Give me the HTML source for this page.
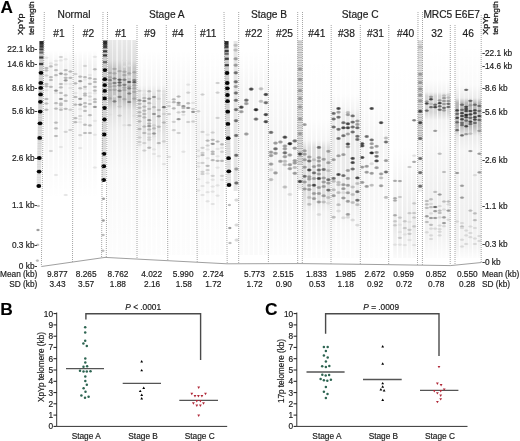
<!DOCTYPE html>
<html><head><meta charset="utf-8"><style>
html,body{margin:0;padding:0;background:#fff;}
body{width:520px;height:441px;overflow:hidden;}
svg{display:block;will-change:transform;font-family:"Liberation Sans",sans-serif;}
text{stroke:#222;stroke-width:0.18px;}
</style></head><body>
<svg width="520" height="441" viewBox="0 0 520 441">
<rect width="520" height="441" fill="#fff"/>
<defs>
<linearGradient id="sg" x1="0" y1="0" x2="0" y2="1"><stop offset="0" stop-color="#000" stop-opacity="0.9"/><stop offset="0.55" stop-color="#000" stop-opacity="1"/><stop offset="1" stop-color="#000" stop-opacity="0.15"/></linearGradient>
<filter id="bl" x="-50%" y="-80%" width="200%" height="260%"><feGaussianBlur stdDeviation="0.7"/></filter>
<filter id="bl2" x="-50%" y="-50%" width="200%" height="200%"><feGaussianBlur stdDeviation="0.7"/></filter>
<pattern id="stripe" width="6" height="2.6" patternUnits="userSpaceOnUse"><rect width="6" height="1.3" fill="#acacac"/><rect y="1.3" width="6" height="1.3" fill="#d8d8d8"/></pattern>
<linearGradient id="sm_nA" x1="0" y1="0" x2="0" y2="1"><stop offset="0.000" stop-color="#000" stop-opacity="0"/><stop offset="0.100" stop-color="#000" stop-opacity="0.05"/><stop offset="0.400" stop-color="#000" stop-opacity="0.05"/><stop offset="1.000" stop-color="#000" stop-opacity="0"/></linearGradient>
<linearGradient id="sm_nB" x1="0" y1="0" x2="0" y2="1"><stop offset="0.000" stop-color="#000" stop-opacity="0"/><stop offset="0.100" stop-color="#000" stop-opacity="0.05"/><stop offset="0.400" stop-color="#000" stop-opacity="0.05"/><stop offset="1.000" stop-color="#000" stop-opacity="0"/></linearGradient>
<linearGradient id="sm_a1" x1="0" y1="0" x2="0" y2="1"><stop offset="0.000" stop-color="#000" stop-opacity="0.09"/><stop offset="0.093" stop-color="#000" stop-opacity="0.13"/><stop offset="0.130" stop-color="#000" stop-opacity="0.22"/><stop offset="0.279" stop-color="#000" stop-opacity="0.25"/><stop offset="0.326" stop-color="#000" stop-opacity="0.12"/><stop offset="0.419" stop-color="#000" stop-opacity="0.06"/><stop offset="0.605" stop-color="#000" stop-opacity="0.025"/><stop offset="1.000" stop-color="#000" stop-opacity="0.01"/></linearGradient>
<linearGradient id="sm_a9" x1="0" y1="0" x2="0" y2="1"><stop offset="0.000" stop-color="#000" stop-opacity="0"/><stop offset="0.171" stop-color="#000" stop-opacity="0.04"/><stop offset="0.220" stop-color="#000" stop-opacity="0.12"/><stop offset="0.390" stop-color="#000" stop-opacity="0.12"/><stop offset="0.488" stop-color="#000" stop-opacity="0.05"/><stop offset="0.634" stop-color="#000" stop-opacity="0.02"/><stop offset="1.000" stop-color="#000" stop-opacity="0.01"/></linearGradient>
<linearGradient id="sm_a4" x1="0" y1="0" x2="0" y2="1"><stop offset="0.000" stop-color="#000" stop-opacity="0"/><stop offset="0.220" stop-color="#000" stop-opacity="0.04"/><stop offset="0.341" stop-color="#000" stop-opacity="0.04"/><stop offset="0.634" stop-color="#000" stop-opacity="0.015"/><stop offset="1.000" stop-color="#000" stop-opacity="0.01"/></linearGradient>
<linearGradient id="sm_a11" x1="0" y1="0" x2="0" y2="1"><stop offset="0.000" stop-color="#000" stop-opacity="0"/><stop offset="0.390" stop-color="#000" stop-opacity="0.05"/><stop offset="0.634" stop-color="#000" stop-opacity="0.04"/><stop offset="0.829" stop-color="#000" stop-opacity="0.015"/><stop offset="1.000" stop-color="#000" stop-opacity="0.01"/></linearGradient>
<linearGradient id="sm_b22" x1="0" y1="0" x2="0" y2="1"><stop offset="0.000" stop-color="#000" stop-opacity="0"/><stop offset="0.195" stop-color="#000" stop-opacity="0.04"/><stop offset="0.390" stop-color="#000" stop-opacity="0.04"/><stop offset="1.000" stop-color="#000" stop-opacity="0.02"/></linearGradient>
<linearGradient id="sm_b25" x1="0" y1="0" x2="0" y2="1"><stop offset="0.000" stop-color="#000" stop-opacity="0"/><stop offset="0.390" stop-color="#000" stop-opacity="0.04"/><stop offset="0.610" stop-color="#000" stop-opacity="0.05"/><stop offset="1.000" stop-color="#000" stop-opacity="0.01"/></linearGradient>
<linearGradient id="sm_c41" x1="0" y1="0" x2="0" y2="1"><stop offset="0.000" stop-color="#000" stop-opacity="0.0"/><stop offset="0.337" stop-color="#000" stop-opacity="0.01"/><stop offset="0.433" stop-color="#000" stop-opacity="0.04"/><stop offset="0.471" stop-color="#000" stop-opacity="0.13"/><stop offset="0.697" stop-color="#000" stop-opacity="0.13"/><stop offset="0.779" stop-color="#000" stop-opacity="0.05"/><stop offset="1.000" stop-color="#000" stop-opacity="0.01"/></linearGradient>
<linearGradient id="sm_c38" x1="0" y1="0" x2="0" y2="1"><stop offset="0.000" stop-color="#000" stop-opacity="0.0"/><stop offset="0.216" stop-color="#000" stop-opacity="0.01"/><stop offset="0.279" stop-color="#000" stop-opacity="0.04"/><stop offset="0.312" stop-color="#000" stop-opacity="0.08"/><stop offset="0.697" stop-color="#000" stop-opacity="0.08"/><stop offset="0.841" stop-color="#000" stop-opacity="0.03"/><stop offset="1.000" stop-color="#000" stop-opacity="0.01"/></linearGradient>
<linearGradient id="sm_c31" x1="0" y1="0" x2="0" y2="1"><stop offset="0.000" stop-color="#000" stop-opacity="0.0"/><stop offset="0.240" stop-color="#000" stop-opacity="0.01"/><stop offset="0.433" stop-color="#000" stop-opacity="0.04"/><stop offset="0.721" stop-color="#000" stop-opacity="0.03"/><stop offset="1.000" stop-color="#000" stop-opacity="0.01"/></linearGradient>
<linearGradient id="sm_c40" x1="0" y1="0" x2="0" y2="1"><stop offset="0.000" stop-color="#000" stop-opacity="0.0"/><stop offset="0.481" stop-color="#000" stop-opacity="0.01"/><stop offset="0.625" stop-color="#000" stop-opacity="0.04"/><stop offset="0.865" stop-color="#000" stop-opacity="0.08"/><stop offset="1.000" stop-color="#000" stop-opacity="0.02"/></linearGradient>
<linearGradient id="sm_m32" x1="0" y1="0" x2="0" y2="1"><stop offset="0.000" stop-color="#000" stop-opacity="0.0"/><stop offset="0.164" stop-color="#000" stop-opacity="0.01"/><stop offset="0.221" stop-color="#000" stop-opacity="0.05"/><stop offset="0.239" stop-color="#000" stop-opacity="0.16"/><stop offset="0.315" stop-color="#000" stop-opacity="0.16"/><stop offset="0.352" stop-color="#000" stop-opacity="0.05"/><stop offset="0.446" stop-color="#000" stop-opacity="0.03"/><stop offset="0.704" stop-color="#000" stop-opacity="0.06"/><stop offset="0.892" stop-color="#000" stop-opacity="0.05"/><stop offset="1.000" stop-color="#000" stop-opacity="0.01"/></linearGradient>
<linearGradient id="sm_m46" x1="0" y1="0" x2="0" y2="1"><stop offset="0.000" stop-color="#000" stop-opacity="0.0"/><stop offset="0.188" stop-color="#000" stop-opacity="0.02"/><stop offset="0.249" stop-color="#000" stop-opacity="0.08"/><stop offset="0.272" stop-color="#000" stop-opacity="0.28"/><stop offset="0.380" stop-color="#000" stop-opacity="0.28"/><stop offset="0.427" stop-color="#000" stop-opacity="0.08"/><stop offset="0.493" stop-color="#000" stop-opacity="0.04"/><stop offset="0.798" stop-color="#000" stop-opacity="0.06"/><stop offset="0.939" stop-color="#000" stop-opacity="0.05"/><stop offset="1.000" stop-color="#000" stop-opacity="0.01"/></linearGradient>
<radialGradient id="qV"><stop offset="0" stop-color="#505050" stop-opacity="1"/><stop offset="0.45" stop-color="#505050" stop-opacity="0.9"/><stop offset="1" stop-color="#505050" stop-opacity="0"/></radialGradient>
<radialGradient id="qD"><stop offset="0" stop-color="#6a6a6a" stop-opacity="1"/><stop offset="0.45" stop-color="#6a6a6a" stop-opacity="0.9"/><stop offset="1" stop-color="#6a6a6a" stop-opacity="0"/></radialGradient>
<radialGradient id="qM2"><stop offset="0" stop-color="#8e8e8e" stop-opacity="1"/><stop offset="0.45" stop-color="#8e8e8e" stop-opacity="0.9"/><stop offset="1" stop-color="#8e8e8e" stop-opacity="0"/></radialGradient>
<radialGradient id="qM"><stop offset="0" stop-color="#b2b2b2" stop-opacity="1"/><stop offset="0.45" stop-color="#b2b2b2" stop-opacity="0.9"/><stop offset="1" stop-color="#b2b2b2" stop-opacity="0"/></radialGradient>
<radialGradient id="qL2"><stop offset="0" stop-color="#cbcbcb" stop-opacity="1"/><stop offset="0.45" stop-color="#cbcbcb" stop-opacity="0.9"/><stop offset="1" stop-color="#cbcbcb" stop-opacity="0"/></radialGradient>
<radialGradient id="qL"><stop offset="0" stop-color="#e0e0e0" stop-opacity="1"/><stop offset="0.45" stop-color="#e0e0e0" stop-opacity="0.9"/><stop offset="1" stop-color="#e0e0e0" stop-opacity="0"/></radialGradient>
<radialGradient id="nV"><stop offset="0" stop-color="#4a4a4a" stop-opacity="1"/><stop offset="0.45" stop-color="#4a4a4a" stop-opacity="0.9"/><stop offset="1" stop-color="#4a4a4a" stop-opacity="0"/></radialGradient>
<radialGradient id="nD"><stop offset="0" stop-color="#686868" stop-opacity="1"/><stop offset="0.45" stop-color="#686868" stop-opacity="0.9"/><stop offset="1" stop-color="#686868" stop-opacity="0"/></radialGradient>
<radialGradient id="nM2"><stop offset="0" stop-color="#929292" stop-opacity="1"/><stop offset="0.45" stop-color="#929292" stop-opacity="0.9"/><stop offset="1" stop-color="#929292" stop-opacity="0"/></radialGradient>
<radialGradient id="nM"><stop offset="0" stop-color="#b6b6b6" stop-opacity="1"/><stop offset="0.45" stop-color="#b6b6b6" stop-opacity="0.9"/><stop offset="1" stop-color="#b6b6b6" stop-opacity="0"/></radialGradient>
<radialGradient id="nL2"><stop offset="0" stop-color="#cfcfcf" stop-opacity="1"/><stop offset="0.45" stop-color="#cfcfcf" stop-opacity="0.9"/><stop offset="1" stop-color="#cfcfcf" stop-opacity="0"/></radialGradient>
<radialGradient id="nL"><stop offset="0" stop-color="#e3e3e3" stop-opacity="1"/><stop offset="0.45" stop-color="#e3e3e3" stop-opacity="0.9"/><stop offset="1" stop-color="#e3e3e3" stop-opacity="0"/></radialGradient>
<radialGradient id="hV"><stop offset="0" stop-color="#3a3a3a" stop-opacity="1"/><stop offset="0.45" stop-color="#3a3a3a" stop-opacity="0.9"/><stop offset="1" stop-color="#3a3a3a" stop-opacity="0"/></radialGradient>
<radialGradient id="hD"><stop offset="0" stop-color="#555555" stop-opacity="1"/><stop offset="0.45" stop-color="#555555" stop-opacity="0.9"/><stop offset="1" stop-color="#555555" stop-opacity="0"/></radialGradient>
<radialGradient id="hM2"><stop offset="0" stop-color="#7a7a7a" stop-opacity="1"/><stop offset="0.45" stop-color="#7a7a7a" stop-opacity="0.9"/><stop offset="1" stop-color="#7a7a7a" stop-opacity="0"/></radialGradient>
<radialGradient id="hM"><stop offset="0" stop-color="#a4a4a4" stop-opacity="1"/><stop offset="0.45" stop-color="#a4a4a4" stop-opacity="0.9"/><stop offset="1" stop-color="#a4a4a4" stop-opacity="0"/></radialGradient>
<radialGradient id="hL2"><stop offset="0" stop-color="#c4c4c4" stop-opacity="1"/><stop offset="0.45" stop-color="#c4c4c4" stop-opacity="0.9"/><stop offset="1" stop-color="#c4c4c4" stop-opacity="0"/></radialGradient>
<radialGradient id="hL"><stop offset="0" stop-color="#dedede" stop-opacity="1"/><stop offset="0.45" stop-color="#dedede" stop-opacity="0.9"/><stop offset="1" stop-color="#dedede" stop-opacity="0"/></radialGradient>
<radialGradient id="gV"><stop offset="0" stop-color="#1e1e1e" stop-opacity="1"/><stop offset="0.45" stop-color="#1e1e1e" stop-opacity="0.9"/><stop offset="1" stop-color="#1e1e1e" stop-opacity="0"/></radialGradient>
<radialGradient id="gD"><stop offset="0" stop-color="#3c3c3c" stop-opacity="1"/><stop offset="0.45" stop-color="#3c3c3c" stop-opacity="0.9"/><stop offset="1" stop-color="#3c3c3c" stop-opacity="0"/></radialGradient>
<radialGradient id="gM2"><stop offset="0" stop-color="#646464" stop-opacity="1"/><stop offset="0.45" stop-color="#646464" stop-opacity="0.9"/><stop offset="1" stop-color="#646464" stop-opacity="0"/></radialGradient>
<radialGradient id="gM"><stop offset="0" stop-color="#959595" stop-opacity="1"/><stop offset="0.45" stop-color="#959595" stop-opacity="0.9"/><stop offset="1" stop-color="#959595" stop-opacity="0"/></radialGradient>
<radialGradient id="gL2"><stop offset="0" stop-color="#b8b8b8" stop-opacity="1"/><stop offset="0.45" stop-color="#b8b8b8" stop-opacity="0.9"/><stop offset="1" stop-color="#b8b8b8" stop-opacity="0"/></radialGradient>
<radialGradient id="gL"><stop offset="0" stop-color="#d6d6d6" stop-opacity="1"/><stop offset="0.45" stop-color="#d6d6d6" stop-opacity="0.9"/><stop offset="1" stop-color="#d6d6d6" stop-opacity="0"/></radialGradient>
<linearGradient id="ldtop" x1="0" y1="0" x2="0" y2="1"><stop offset="0" stop-color="#3a3a3a"/><stop offset="0.3" stop-color="#222"/><stop offset="0.6" stop-color="#4a4a4a"/><stop offset="0.8" stop-color="#333"/><stop offset="1" stop-color="#6a6a6a"/></linearGradient>
<linearGradient id="ldbg" x1="0" y1="0" x2="0" y2="1"><stop offset="0" stop-color="#000" stop-opacity="0.22"/><stop offset="0.5" stop-color="#000" stop-opacity="0.16"/><stop offset="1" stop-color="#000" stop-opacity="0.06"/></linearGradient>
</defs>
<rect x="44.6" y="50" width="3.6" height="150" fill="url(#sm_nA)"/>
<rect x="49.1" y="50" width="3.6" height="150" fill="url(#sm_nA)"/>
<rect x="54.2" y="50" width="3.6" height="150" fill="url(#sm_nA)"/>
<rect x="59.1" y="50" width="3.6" height="150" fill="url(#sm_nA)"/>
<rect x="63.9" y="50" width="3.6" height="150" fill="url(#sm_nA)"/>
<rect x="68.6" y="50" width="3.6" height="150" fill="url(#sm_nA)"/>
<rect x="73.6" y="50" width="3.6" height="150" fill="url(#sm_nB)"/>
<rect x="78.4" y="50" width="3.6" height="150" fill="url(#sm_nB)"/>
<rect x="83.2" y="50" width="3.6" height="150" fill="url(#sm_nB)"/>
<rect x="88.1" y="50" width="3.6" height="150" fill="url(#sm_nB)"/>
<rect x="93.1" y="50" width="3.6" height="150" fill="url(#sm_nB)"/>
<rect x="108.0" y="40" width="4.0" height="215" fill="url(#sm_a1)"/>
<rect x="112.5" y="40" width="4.0" height="215" fill="url(#sm_a1)"/>
<rect x="117.6" y="40" width="4.0" height="215" fill="url(#sm_a1)"/>
<rect x="122.4" y="40" width="4.0" height="215" fill="url(#sm_a1)"/>
<rect x="127.2" y="40" width="4.0" height="215" fill="url(#sm_a1)"/>
<rect x="132.3" y="40" width="4.0" height="215" fill="url(#sm_a1)"/>
<rect x="137.7" y="50" width="3.6" height="205" fill="url(#sm_a9)"/>
<rect x="142.5" y="50" width="3.6" height="205" fill="url(#sm_a9)"/>
<rect x="147.4" y="50" width="3.6" height="205" fill="url(#sm_a9)"/>
<rect x="152.2" y="50" width="3.6" height="205" fill="url(#sm_a9)"/>
<rect x="157.0" y="50" width="3.6" height="205" fill="url(#sm_a9)"/>
<rect x="162.1" y="50" width="3.6" height="205" fill="url(#sm_a9)"/>
<rect x="167.2" y="50" width="3.6" height="205" fill="url(#sm_a4)"/>
<rect x="172.0" y="50" width="3.6" height="205" fill="url(#sm_a4)"/>
<rect x="176.8" y="50" width="3.6" height="205" fill="url(#sm_a4)"/>
<rect x="181.6" y="50" width="3.6" height="205" fill="url(#sm_a4)"/>
<rect x="186.4" y="50" width="3.6" height="205" fill="url(#sm_a4)"/>
<rect x="191.3" y="50" width="3.6" height="205" fill="url(#sm_a4)"/>
<rect x="196.5" y="50" width="3.6" height="205" fill="url(#sm_a11)"/>
<rect x="200.7" y="50" width="3.6" height="205" fill="url(#sm_a11)"/>
<rect x="205.8" y="50" width="3.6" height="205" fill="url(#sm_a11)"/>
<rect x="210.9" y="50" width="3.6" height="205" fill="url(#sm_a11)"/>
<rect x="215.8" y="50" width="3.6" height="205" fill="url(#sm_a11)"/>
<rect x="220.2" y="50" width="3.6" height="205" fill="url(#sm_a11)"/>
<rect x="239.5" y="50" width="3.6" height="205" fill="url(#sm_b22)"/>
<rect x="244.5" y="50" width="3.6" height="205" fill="url(#sm_b22)"/>
<rect x="249.4" y="50" width="3.6" height="205" fill="url(#sm_b22)"/>
<rect x="254.2" y="50" width="3.6" height="205" fill="url(#sm_b22)"/>
<rect x="259.2" y="50" width="3.6" height="205" fill="url(#sm_b22)"/>
<rect x="264.1" y="50" width="3.6" height="205" fill="url(#sm_b22)"/>
<rect x="269.2" y="50" width="3.6" height="205" fill="url(#sm_b25)"/>
<rect x="273.7" y="50" width="3.6" height="205" fill="url(#sm_b25)"/>
<rect x="278.6" y="50" width="3.6" height="205" fill="url(#sm_b25)"/>
<rect x="283.1" y="50" width="3.6" height="205" fill="url(#sm_b25)"/>
<rect x="288.1" y="50" width="3.6" height="205" fill="url(#sm_b25)"/>
<rect x="293.0" y="50" width="3.6" height="205" fill="url(#sm_b25)"/>
<rect x="302.8" y="50" width="3.6" height="208" fill="url(#sm_c41)"/>
<rect x="307.4" y="50" width="3.6" height="208" fill="url(#sm_c41)"/>
<rect x="312.2" y="50" width="3.6" height="208" fill="url(#sm_c41)"/>
<rect x="317.1" y="50" width="3.6" height="208" fill="url(#sm_c41)"/>
<rect x="321.9" y="50" width="3.6" height="208" fill="url(#sm_c41)"/>
<rect x="326.6" y="50" width="3.6" height="208" fill="url(#sm_c41)"/>
<rect x="331.8" y="50" width="3.6" height="208" fill="url(#sm_c38)"/>
<rect x="336.7" y="50" width="3.6" height="208" fill="url(#sm_c38)"/>
<rect x="341.6" y="50" width="3.6" height="208" fill="url(#sm_c38)"/>
<rect x="346.1" y="50" width="3.6" height="208" fill="url(#sm_c38)"/>
<rect x="350.9" y="50" width="3.6" height="208" fill="url(#sm_c38)"/>
<rect x="355.6" y="50" width="3.6" height="208" fill="url(#sm_c38)"/>
<rect x="360.4" y="50" width="3.6" height="208" fill="url(#sm_c31)"/>
<rect x="364.9" y="50" width="3.6" height="208" fill="url(#sm_c31)"/>
<rect x="369.9" y="50" width="3.6" height="208" fill="url(#sm_c31)"/>
<rect x="374.8" y="50" width="3.6" height="208" fill="url(#sm_c31)"/>
<rect x="379.3" y="50" width="3.6" height="208" fill="url(#sm_c31)"/>
<rect x="384.2" y="50" width="3.6" height="208" fill="url(#sm_c31)"/>
<rect x="393.2" y="50" width="3.6" height="208" fill="url(#sm_c40)"/>
<rect x="398.1" y="50" width="3.6" height="208" fill="url(#sm_c40)"/>
<rect x="403.0" y="50" width="3.6" height="208" fill="url(#sm_c40)"/>
<rect x="407.7" y="50" width="3.6" height="208" fill="url(#sm_c40)"/>
<rect x="412.3" y="50" width="3.6" height="208" fill="url(#sm_c40)"/>
<rect x="425.0" y="45" width="3.6" height="213" fill="url(#sm_m32)"/>
<rect x="429.2" y="45" width="3.6" height="213" fill="url(#sm_m32)"/>
<rect x="433.4" y="45" width="3.6" height="213" fill="url(#sm_m32)"/>
<rect x="437.9" y="45" width="3.6" height="213" fill="url(#sm_m32)"/>
<rect x="442.2" y="45" width="3.6" height="213" fill="url(#sm_m32)"/>
<rect x="446.7" y="45" width="3.6" height="213" fill="url(#sm_m32)"/>
<rect x="455.3" y="45" width="3.6" height="213" fill="url(#sm_m46)"/>
<rect x="460.2" y="45" width="3.6" height="213" fill="url(#sm_m46)"/>
<rect x="464.4" y="45" width="3.6" height="213" fill="url(#sm_m46)"/>
<rect x="468.6" y="45" width="3.6" height="213" fill="url(#sm_m46)"/>
<rect x="473.1" y="45" width="3.6" height="213" fill="url(#sm_m46)"/>
<rect x="477.6" y="45" width="3.6" height="213" fill="url(#sm_m46)"/>
<g>
<ellipse cx="46.4" cy="57.7" rx="2.77" ry="1.62" fill="url(#nL)"/>
<ellipse cx="46.4" cy="68.1" rx="2.77" ry="1.62" fill="url(#nM)"/>
<ellipse cx="46.4" cy="70.4" rx="2.77" ry="1.62" fill="url(#nM)"/>
<ellipse cx="46.4" cy="75.5" rx="2.77" ry="1.62" fill="url(#nL2)"/>
<ellipse cx="46.4" cy="84.0" rx="2.77" ry="1.62" fill="url(#nM)"/>
<ellipse cx="46.4" cy="86.3" rx="2.77" ry="1.62" fill="url(#nM)"/>
<ellipse cx="46.4" cy="90.2" rx="2.77" ry="1.62" fill="url(#nL)"/>
<ellipse cx="46.4" cy="99.0" rx="2.77" ry="1.62" fill="url(#nM)"/>
<ellipse cx="46.4" cy="103.5" rx="2.77" ry="1.62" fill="url(#nM)"/>
<ellipse cx="46.4" cy="109.7" rx="2.77" ry="1.62" fill="url(#nM)"/>
<ellipse cx="50.9" cy="63.4" rx="2.77" ry="1.62" fill="url(#nL)"/>
<ellipse cx="50.9" cy="66.4" rx="2.77" ry="1.62" fill="url(#nM)"/>
<ellipse cx="50.9" cy="77.2" rx="2.77" ry="1.62" fill="url(#nM)"/>
<ellipse cx="50.9" cy="80.0" rx="2.77" ry="1.62" fill="url(#nM)"/>
<ellipse cx="50.9" cy="86.8" rx="2.77" ry="1.62" fill="url(#nM)"/>
<ellipse cx="50.9" cy="151.0" rx="2.77" ry="1.62" fill="url(#nL2)"/>
<ellipse cx="56.0" cy="60.8" rx="2.77" ry="1.62" fill="url(#nL)"/>
<ellipse cx="56.0" cy="64.7" rx="2.77" ry="1.62" fill="url(#nL2)"/>
<ellipse cx="56.0" cy="70.2" rx="2.77" ry="1.62" fill="url(#nM)"/>
<ellipse cx="56.0" cy="75.2" rx="2.77" ry="1.62" fill="url(#nM)"/>
<ellipse cx="56.0" cy="90.6" rx="2.77" ry="1.62" fill="url(#nM2)"/>
<ellipse cx="56.0" cy="93.1" rx="2.77" ry="1.62" fill="url(#nL)"/>
<ellipse cx="56.0" cy="103.2" rx="2.77" ry="1.62" fill="url(#nM)"/>
<ellipse cx="56.0" cy="108.6" rx="2.77" ry="1.62" fill="url(#nM)"/>
<ellipse cx="56.0" cy="122.6" rx="2.77" ry="1.62" fill="url(#nM)"/>
<ellipse cx="56.0" cy="128.4" rx="2.77" ry="1.62" fill="url(#nM)"/>
<ellipse cx="56.0" cy="136.0" rx="2.77" ry="1.62" fill="url(#nM)"/>
<ellipse cx="56.0" cy="175.0" rx="2.77" ry="1.62" fill="url(#nL)"/>
<ellipse cx="60.9" cy="57.0" rx="2.77" ry="1.62" fill="url(#nL2)"/>
<ellipse cx="60.9" cy="60.4" rx="2.77" ry="1.62" fill="url(#nL)"/>
<ellipse cx="60.9" cy="73.6" rx="2.77" ry="1.62" fill="url(#nM2)"/>
<ellipse cx="60.9" cy="84.0" rx="2.77" ry="1.62" fill="url(#nM)"/>
<ellipse cx="60.9" cy="87.4" rx="2.77" ry="1.62" fill="url(#nM)"/>
<ellipse cx="60.9" cy="92.9" rx="2.77" ry="1.62" fill="url(#nM)"/>
<ellipse cx="60.9" cy="99.0" rx="2.77" ry="1.62" fill="url(#nM2)"/>
<ellipse cx="60.9" cy="103.5" rx="2.77" ry="1.62" fill="url(#nM)"/>
<ellipse cx="60.9" cy="105.0" rx="2.77" ry="1.62" fill="url(#nM)"/>
<ellipse cx="60.9" cy="107.7" rx="2.77" ry="1.62" fill="url(#nL)"/>
<ellipse cx="60.9" cy="109.7" rx="2.77" ry="1.62" fill="url(#nM)"/>
<ellipse cx="60.9" cy="147.0" rx="2.77" ry="1.62" fill="url(#nL)"/>
<ellipse cx="65.7" cy="59.3" rx="2.77" ry="1.62" fill="url(#nL)"/>
<ellipse cx="65.7" cy="70.2" rx="2.77" ry="1.62" fill="url(#nM)"/>
<ellipse cx="65.7" cy="74.4" rx="2.77" ry="1.62" fill="url(#nM)"/>
<ellipse cx="65.7" cy="77.8" rx="2.77" ry="1.62" fill="url(#nM)"/>
<ellipse cx="65.7" cy="80.4" rx="2.77" ry="1.62" fill="url(#nM2)"/>
<ellipse cx="65.7" cy="84.0" rx="2.77" ry="1.62" fill="url(#nL)"/>
<ellipse cx="65.7" cy="95.4" rx="2.77" ry="1.62" fill="url(#nM)"/>
<ellipse cx="65.7" cy="100.9" rx="2.77" ry="1.62" fill="url(#nM)"/>
<ellipse cx="65.7" cy="108.8" rx="2.77" ry="1.62" fill="url(#nM)"/>
<ellipse cx="65.7" cy="131.8" rx="2.77" ry="1.62" fill="url(#nL2)"/>
<ellipse cx="65.7" cy="195.0" rx="2.77" ry="1.62" fill="url(#nL)"/>
<ellipse cx="70.4" cy="71.5" rx="2.77" ry="1.62" fill="url(#nM)"/>
<ellipse cx="70.4" cy="77.8" rx="2.77" ry="1.62" fill="url(#nM)"/>
<ellipse cx="70.4" cy="84.0" rx="2.77" ry="1.62" fill="url(#nL)"/>
<ellipse cx="70.4" cy="88.0" rx="2.77" ry="1.62" fill="url(#nL)"/>
<ellipse cx="70.4" cy="109.7" rx="2.77" ry="1.62" fill="url(#nL2)"/>
<ellipse cx="70.4" cy="130.0" rx="2.77" ry="1.62" fill="url(#nL2)"/>
<ellipse cx="75.4" cy="74.0" rx="2.77" ry="1.62" fill="url(#nL2)"/>
<ellipse cx="75.4" cy="83.4" rx="2.77" ry="1.62" fill="url(#nM)"/>
<ellipse cx="75.4" cy="93.1" rx="2.77" ry="1.62" fill="url(#nL)"/>
<ellipse cx="75.4" cy="97.0" rx="2.77" ry="1.62" fill="url(#nM)"/>
<ellipse cx="75.4" cy="104.6" rx="2.77" ry="1.62" fill="url(#nM)"/>
<ellipse cx="75.4" cy="118.2" rx="2.77" ry="1.62" fill="url(#nM)"/>
<ellipse cx="75.4" cy="122.2" rx="2.77" ry="1.62" fill="url(#nM)"/>
<ellipse cx="80.2" cy="76.6" rx="2.77" ry="1.62" fill="url(#nM)"/>
<ellipse cx="80.2" cy="81.2" rx="2.77" ry="1.62" fill="url(#nM2)"/>
<ellipse cx="80.2" cy="88.3" rx="2.77" ry="1.62" fill="url(#nM)"/>
<ellipse cx="80.2" cy="98.8" rx="2.77" ry="1.62" fill="url(#nM2)"/>
<ellipse cx="80.2" cy="104.6" rx="2.77" ry="1.62" fill="url(#nM2)"/>
<ellipse cx="80.2" cy="109.2" rx="2.77" ry="1.62" fill="url(#nL)"/>
<ellipse cx="80.2" cy="116.0" rx="2.77" ry="1.62" fill="url(#nL2)"/>
<ellipse cx="80.2" cy="119.0" rx="2.77" ry="1.62" fill="url(#nL)"/>
<ellipse cx="80.2" cy="122.2" rx="2.77" ry="1.62" fill="url(#nL)"/>
<ellipse cx="80.2" cy="135.2" rx="2.77" ry="1.62" fill="url(#nL2)"/>
<ellipse cx="80.2" cy="148.0" rx="2.77" ry="1.62" fill="url(#nL)"/>
<ellipse cx="85.0" cy="65.9" rx="2.77" ry="1.62" fill="url(#nL2)"/>
<ellipse cx="85.0" cy="77.2" rx="2.77" ry="1.62" fill="url(#nM)"/>
<ellipse cx="85.0" cy="79.5" rx="2.77" ry="1.62" fill="url(#nL)"/>
<ellipse cx="85.0" cy="86.8" rx="2.77" ry="1.62" fill="url(#nM)"/>
<ellipse cx="85.0" cy="89.1" rx="2.77" ry="1.62" fill="url(#nL)"/>
<ellipse cx="85.0" cy="93.6" rx="2.77" ry="1.62" fill="url(#nM)"/>
<ellipse cx="85.0" cy="95.4" rx="2.77" ry="1.62" fill="url(#nM)"/>
<ellipse cx="85.0" cy="103.2" rx="2.77" ry="1.62" fill="url(#nM)"/>
<ellipse cx="85.0" cy="106.6" rx="2.77" ry="1.62" fill="url(#nM)"/>
<ellipse cx="85.0" cy="110.9" rx="2.77" ry="1.62" fill="url(#nM)"/>
<ellipse cx="85.0" cy="124.7" rx="2.77" ry="1.62" fill="url(#nM)"/>
<ellipse cx="85.0" cy="133.0" rx="2.77" ry="1.62" fill="url(#nM)"/>
<ellipse cx="89.9" cy="75.0" rx="2.77" ry="1.62" fill="url(#nL)"/>
<ellipse cx="89.9" cy="78.3" rx="2.77" ry="1.62" fill="url(#nM)"/>
<ellipse cx="89.9" cy="83.8" rx="2.77" ry="1.62" fill="url(#nM)"/>
<ellipse cx="89.9" cy="93.1" rx="2.77" ry="1.62" fill="url(#nL)"/>
<ellipse cx="89.9" cy="96.5" rx="2.77" ry="1.62" fill="url(#nL2)"/>
<ellipse cx="89.9" cy="100.1" rx="2.77" ry="1.62" fill="url(#nL)"/>
<ellipse cx="89.9" cy="104.0" rx="2.77" ry="1.62" fill="url(#nM)"/>
<ellipse cx="89.9" cy="115.2" rx="2.77" ry="1.62" fill="url(#nM)"/>
<ellipse cx="89.9" cy="125.4" rx="2.77" ry="1.62" fill="url(#nM)"/>
<ellipse cx="89.9" cy="133.0" rx="2.77" ry="1.62" fill="url(#nM)"/>
<ellipse cx="94.9" cy="56.8" rx="2.77" ry="1.62" fill="url(#nL)"/>
<ellipse cx="94.9" cy="69.3" rx="2.77" ry="1.62" fill="url(#nM)"/>
<ellipse cx="94.9" cy="79.2" rx="2.77" ry="1.62" fill="url(#nM)"/>
<ellipse cx="94.9" cy="82.0" rx="2.77" ry="1.62" fill="url(#nM)"/>
<ellipse cx="94.9" cy="86.8" rx="2.77" ry="1.62" fill="url(#nM)"/>
<ellipse cx="94.9" cy="90.6" rx="2.77" ry="1.62" fill="url(#nM)"/>
<ellipse cx="94.9" cy="93.3" rx="2.77" ry="1.62" fill="url(#nL)"/>
<ellipse cx="94.9" cy="99.3" rx="2.77" ry="1.62" fill="url(#nM)"/>
<ellipse cx="94.9" cy="102.0" rx="2.77" ry="1.62" fill="url(#nM)"/>
<ellipse cx="94.9" cy="106.9" rx="2.77" ry="1.62" fill="url(#nM2)"/>
<ellipse cx="94.9" cy="120.8" rx="2.77" ry="1.62" fill="url(#nL)"/>
<ellipse cx="94.9" cy="134.7" rx="2.77" ry="1.62" fill="url(#nL)"/>
<ellipse cx="94.9" cy="167.5" rx="2.77" ry="1.62" fill="url(#nL)"/>
<ellipse cx="110.0" cy="59.3" rx="2.77" ry="1.62" fill="url(#hL)"/>
<ellipse cx="110.0" cy="72.9" rx="2.77" ry="1.62" fill="url(#hM)"/>
<ellipse cx="110.0" cy="77.4" rx="2.77" ry="1.62" fill="url(#hM)"/>
<ellipse cx="110.0" cy="80.2" rx="2.77" ry="1.62" fill="url(#hM2)"/>
<ellipse cx="110.0" cy="83.7" rx="2.77" ry="1.62" fill="url(#hM)"/>
<ellipse cx="110.0" cy="86.5" rx="2.77" ry="1.62" fill="url(#hM)"/>
<ellipse cx="110.0" cy="90.1" rx="2.77" ry="1.62" fill="url(#hM)"/>
<ellipse cx="110.0" cy="98.4" rx="2.77" ry="1.62" fill="url(#hM)"/>
<ellipse cx="110.0" cy="114.5" rx="2.77" ry="1.62" fill="url(#hL)"/>
<ellipse cx="114.5" cy="68.9" rx="2.77" ry="1.62" fill="url(#hM)"/>
<ellipse cx="114.5" cy="73.4" rx="2.77" ry="1.62" fill="url(#hM)"/>
<ellipse cx="114.5" cy="78.5" rx="2.77" ry="1.62" fill="url(#hM2)"/>
<ellipse cx="114.5" cy="83.0" rx="2.77" ry="1.62" fill="url(#hM2)"/>
<ellipse cx="114.5" cy="86.1" rx="2.77" ry="1.62" fill="url(#hM)"/>
<ellipse cx="114.5" cy="89.8" rx="2.77" ry="1.62" fill="url(#hM)"/>
<ellipse cx="114.5" cy="96.3" rx="2.77" ry="1.62" fill="url(#hL)"/>
<ellipse cx="114.5" cy="101.4" rx="2.77" ry="1.62" fill="url(#hM2)"/>
<ellipse cx="119.6" cy="71.2" rx="2.77" ry="1.62" fill="url(#hM)"/>
<ellipse cx="119.6" cy="79.7" rx="2.77" ry="1.62" fill="url(#hD)"/>
<ellipse cx="119.6" cy="82.5" rx="2.77" ry="1.62" fill="url(#hD)"/>
<ellipse cx="119.6" cy="85.4" rx="2.77" ry="1.62" fill="url(#hM2)"/>
<ellipse cx="119.6" cy="90.7" rx="2.77" ry="1.62" fill="url(#hM2)"/>
<ellipse cx="119.6" cy="96.9" rx="2.77" ry="1.62" fill="url(#hM2)"/>
<ellipse cx="119.6" cy="106.5" rx="2.77" ry="1.62" fill="url(#hL2)"/>
<ellipse cx="119.6" cy="115.6" rx="2.77" ry="1.62" fill="url(#hL2)"/>
<ellipse cx="124.4" cy="60.4" rx="2.77" ry="1.62" fill="url(#hL)"/>
<ellipse cx="124.4" cy="66.6" rx="2.77" ry="1.62" fill="url(#hL)"/>
<ellipse cx="124.4" cy="71.7" rx="2.77" ry="1.62" fill="url(#hM)"/>
<ellipse cx="124.4" cy="75.1" rx="2.77" ry="1.62" fill="url(#hM)"/>
<ellipse cx="124.4" cy="79.7" rx="2.77" ry="1.62" fill="url(#hM2)"/>
<ellipse cx="124.4" cy="84.8" rx="2.77" ry="1.62" fill="url(#hM2)"/>
<ellipse cx="124.4" cy="87.6" rx="2.77" ry="1.62" fill="url(#hM)"/>
<ellipse cx="124.4" cy="90.1" rx="2.77" ry="1.62" fill="url(#hM)"/>
<ellipse cx="124.4" cy="99.2" rx="2.77" ry="1.62" fill="url(#hM)"/>
<ellipse cx="124.4" cy="125.2" rx="2.77" ry="1.62" fill="url(#hL)"/>
<ellipse cx="129.2" cy="65.5" rx="2.77" ry="1.62" fill="url(#hL)"/>
<ellipse cx="129.2" cy="73.4" rx="2.77" ry="1.62" fill="url(#hM)"/>
<ellipse cx="129.2" cy="76.8" rx="2.77" ry="1.62" fill="url(#hL)"/>
<ellipse cx="129.2" cy="82.0" rx="2.77" ry="1.62" fill="url(#hD)"/>
<ellipse cx="129.2" cy="86.5" rx="2.77" ry="1.62" fill="url(#hM)"/>
<ellipse cx="129.2" cy="88.4" rx="2.77" ry="1.62" fill="url(#hM2)"/>
<ellipse cx="129.2" cy="93.5" rx="2.77" ry="1.62" fill="url(#hM2)"/>
<ellipse cx="129.2" cy="102.0" rx="2.77" ry="1.62" fill="url(#hM2)"/>
<ellipse cx="129.2" cy="125.2" rx="2.77" ry="1.62" fill="url(#hL2)"/>
<ellipse cx="134.3" cy="72.3" rx="2.77" ry="1.62" fill="url(#hM)"/>
<ellipse cx="134.3" cy="80.2" rx="2.77" ry="1.62" fill="url(#hM2)"/>
<ellipse cx="134.3" cy="82.2" rx="2.77" ry="1.62" fill="url(#hD)"/>
<ellipse cx="134.3" cy="85.4" rx="2.77" ry="1.62" fill="url(#hM)"/>
<ellipse cx="134.3" cy="88.4" rx="2.77" ry="1.62" fill="url(#hM)"/>
<ellipse cx="134.3" cy="91.8" rx="2.77" ry="1.62" fill="url(#hM)"/>
<ellipse cx="134.3" cy="98.6" rx="2.77" ry="1.62" fill="url(#hM)"/>
<ellipse cx="134.3" cy="115.6" rx="2.77" ry="1.62" fill="url(#hL)"/>
<ellipse cx="139.5" cy="90.8" rx="2.77" ry="1.62" fill="url(#qL2)"/>
<ellipse cx="139.5" cy="100.4" rx="2.77" ry="1.62" fill="url(#qM2)"/>
<ellipse cx="139.5" cy="103.8" rx="2.77" ry="1.62" fill="url(#qM)"/>
<ellipse cx="139.5" cy="107.8" rx="2.77" ry="1.62" fill="url(#qM)"/>
<ellipse cx="139.5" cy="112.3" rx="2.77" ry="1.62" fill="url(#qM)"/>
<ellipse cx="139.5" cy="116.0" rx="2.77" ry="1.62" fill="url(#qM)"/>
<ellipse cx="139.5" cy="121.4" rx="2.77" ry="1.62" fill="url(#qM)"/>
<ellipse cx="139.5" cy="125.4" rx="2.77" ry="1.62" fill="url(#qL)"/>
<ellipse cx="139.5" cy="129.0" rx="2.77" ry="1.62" fill="url(#qM)"/>
<ellipse cx="139.5" cy="137.5" rx="2.77" ry="1.62" fill="url(#qL2)"/>
<ellipse cx="139.5" cy="142.0" rx="2.77" ry="1.62" fill="url(#qL2)"/>
<ellipse cx="139.5" cy="144.8" rx="2.77" ry="1.62" fill="url(#qL)"/>
<ellipse cx="144.3" cy="90.8" rx="2.77" ry="1.62" fill="url(#qL)"/>
<ellipse cx="144.3" cy="94.7" rx="2.77" ry="1.62" fill="url(#qL)"/>
<ellipse cx="144.3" cy="98.1" rx="2.77" ry="1.62" fill="url(#qM)"/>
<ellipse cx="144.3" cy="101.0" rx="2.77" ry="1.62" fill="url(#qM2)"/>
<ellipse cx="144.3" cy="106.6" rx="2.77" ry="1.62" fill="url(#qM)"/>
<ellipse cx="144.3" cy="110.6" rx="2.77" ry="1.62" fill="url(#qM)"/>
<ellipse cx="144.3" cy="114.0" rx="2.77" ry="1.62" fill="url(#qM)"/>
<ellipse cx="144.3" cy="117.4" rx="2.77" ry="1.62" fill="url(#qM)"/>
<ellipse cx="144.3" cy="126.5" rx="2.77" ry="1.62" fill="url(#qM)"/>
<ellipse cx="144.3" cy="133.0" rx="2.77" ry="1.62" fill="url(#qM)"/>
<ellipse cx="144.3" cy="143.1" rx="2.77" ry="1.62" fill="url(#qL2)"/>
<ellipse cx="144.3" cy="150.5" rx="2.77" ry="1.62" fill="url(#qL2)"/>
<ellipse cx="149.2" cy="91.3" rx="2.77" ry="1.62" fill="url(#qM)"/>
<ellipse cx="149.2" cy="98.7" rx="2.77" ry="1.62" fill="url(#qM2)"/>
<ellipse cx="149.2" cy="103.2" rx="2.77" ry="1.62" fill="url(#qM)"/>
<ellipse cx="149.2" cy="108.9" rx="2.77" ry="1.62" fill="url(#qM)"/>
<ellipse cx="149.2" cy="112.9" rx="2.77" ry="1.62" fill="url(#qL)"/>
<ellipse cx="149.2" cy="120.2" rx="2.77" ry="1.62" fill="url(#qM2)"/>
<ellipse cx="149.2" cy="123.6" rx="2.77" ry="1.62" fill="url(#qM)"/>
<ellipse cx="149.2" cy="126.1" rx="2.77" ry="1.62" fill="url(#qM2)"/>
<ellipse cx="149.2" cy="129.5" rx="2.77" ry="1.62" fill="url(#qM)"/>
<ellipse cx="149.2" cy="134.0" rx="2.77" ry="1.62" fill="url(#qL2)"/>
<ellipse cx="149.2" cy="137.5" rx="2.77" ry="1.62" fill="url(#qL2)"/>
<ellipse cx="149.2" cy="139.7" rx="2.77" ry="1.62" fill="url(#qL2)"/>
<ellipse cx="149.2" cy="147.7" rx="2.77" ry="1.62" fill="url(#qM)"/>
<ellipse cx="154.0" cy="97.0" rx="2.77" ry="1.62" fill="url(#qM2)"/>
<ellipse cx="154.0" cy="103.8" rx="2.77" ry="1.62" fill="url(#qL)"/>
<ellipse cx="154.0" cy="107.2" rx="2.77" ry="1.62" fill="url(#qM)"/>
<ellipse cx="154.0" cy="114.0" rx="2.77" ry="1.62" fill="url(#qM2)"/>
<ellipse cx="154.0" cy="117.4" rx="2.77" ry="1.62" fill="url(#qL)"/>
<ellipse cx="154.0" cy="125.4" rx="2.77" ry="1.62" fill="url(#qL2)"/>
<ellipse cx="154.0" cy="128.4" rx="2.77" ry="1.62" fill="url(#qM)"/>
<ellipse cx="154.0" cy="133.5" rx="2.77" ry="1.62" fill="url(#qM2)"/>
<ellipse cx="154.0" cy="136.3" rx="2.77" ry="1.62" fill="url(#qL)"/>
<ellipse cx="154.0" cy="149.4" rx="2.77" ry="1.62" fill="url(#qL)"/>
<ellipse cx="154.0" cy="153.9" rx="2.77" ry="1.62" fill="url(#qL)"/>
<ellipse cx="158.8" cy="90.8" rx="2.77" ry="1.62" fill="url(#qL2)"/>
<ellipse cx="158.8" cy="98.7" rx="2.77" ry="1.62" fill="url(#qL2)"/>
<ellipse cx="158.8" cy="101.5" rx="2.77" ry="1.62" fill="url(#qL)"/>
<ellipse cx="158.8" cy="110.0" rx="2.77" ry="1.62" fill="url(#qM)"/>
<ellipse cx="158.8" cy="116.3" rx="2.77" ry="1.62" fill="url(#qM2)"/>
<ellipse cx="158.8" cy="120.8" rx="2.77" ry="1.62" fill="url(#qL)"/>
<ellipse cx="158.8" cy="126.7" rx="2.77" ry="1.62" fill="url(#qM)"/>
<ellipse cx="158.8" cy="130.7" rx="2.77" ry="1.62" fill="url(#qL)"/>
<ellipse cx="158.8" cy="143.1" rx="2.77" ry="1.62" fill="url(#qM)"/>
<ellipse cx="158.8" cy="156.2" rx="2.77" ry="1.62" fill="url(#qL)"/>
<ellipse cx="163.9" cy="91.3" rx="2.77" ry="1.62" fill="url(#qL)"/>
<ellipse cx="163.9" cy="94.7" rx="2.77" ry="1.62" fill="url(#qL)"/>
<ellipse cx="163.9" cy="107.2" rx="2.77" ry="1.62" fill="url(#qD)"/>
<ellipse cx="163.9" cy="114.0" rx="2.77" ry="1.62" fill="url(#qL2)"/>
<ellipse cx="163.9" cy="122.5" rx="2.77" ry="1.62" fill="url(#qM)"/>
<ellipse cx="163.9" cy="126.5" rx="2.77" ry="1.62" fill="url(#qL)"/>
<ellipse cx="163.9" cy="141.4" rx="2.77" ry="1.62" fill="url(#qL2)"/>
<ellipse cx="163.9" cy="164.1" rx="2.77" ry="1.62" fill="url(#qL)"/>
<ellipse cx="169.0" cy="102.2" rx="2.77" ry="1.62" fill="url(#qL)"/>
<ellipse cx="169.0" cy="106.2" rx="2.77" ry="1.62" fill="url(#qL2)"/>
<ellipse cx="169.0" cy="114.1" rx="2.77" ry="1.62" fill="url(#qL2)"/>
<ellipse cx="169.0" cy="156.8" rx="2.77" ry="1.62" fill="url(#qL)"/>
<ellipse cx="173.8" cy="99.4" rx="2.77" ry="1.62" fill="url(#qM)"/>
<ellipse cx="173.8" cy="102.2" rx="2.77" ry="1.62" fill="url(#qM)"/>
<ellipse cx="173.8" cy="108.4" rx="2.77" ry="1.62" fill="url(#qM)"/>
<ellipse cx="173.8" cy="121.8" rx="2.77" ry="1.62" fill="url(#qL2)"/>
<ellipse cx="173.8" cy="130.2" rx="2.77" ry="1.62" fill="url(#qL2)"/>
<ellipse cx="178.6" cy="96.5" rx="2.77" ry="1.62" fill="url(#qM)"/>
<ellipse cx="178.6" cy="102.8" rx="2.77" ry="1.62" fill="url(#qM2)"/>
<ellipse cx="178.6" cy="105.0" rx="2.77" ry="1.62" fill="url(#qM)"/>
<ellipse cx="178.6" cy="112.4" rx="2.77" ry="1.62" fill="url(#qL2)"/>
<ellipse cx="178.6" cy="119.2" rx="2.77" ry="1.62" fill="url(#qM2)"/>
<ellipse cx="178.6" cy="133.0" rx="2.77" ry="1.62" fill="url(#qL2)"/>
<ellipse cx="183.4" cy="106.2" rx="2.77" ry="1.62" fill="url(#qM2)"/>
<ellipse cx="183.4" cy="107.9" rx="2.77" ry="1.62" fill="url(#qM)"/>
<ellipse cx="183.4" cy="111.8" rx="2.77" ry="1.62" fill="url(#qM)"/>
<ellipse cx="183.4" cy="114.7" rx="2.77" ry="1.62" fill="url(#qL)"/>
<ellipse cx="183.4" cy="151.7" rx="2.77" ry="1.62" fill="url(#qL)"/>
<ellipse cx="188.2" cy="84.6" rx="2.77" ry="1.62" fill="url(#qL)"/>
<ellipse cx="188.2" cy="92.6" rx="2.77" ry="1.62" fill="url(#qL2)"/>
<ellipse cx="188.2" cy="103.3" rx="2.77" ry="1.62" fill="url(#qM)"/>
<ellipse cx="188.2" cy="107.9" rx="2.77" ry="1.62" fill="url(#qM2)"/>
<ellipse cx="188.2" cy="122.0" rx="2.77" ry="1.62" fill="url(#qL2)"/>
<ellipse cx="193.1" cy="102.8" rx="2.77" ry="1.62" fill="url(#qL)"/>
<ellipse cx="193.1" cy="109.0" rx="2.77" ry="1.62" fill="url(#qL2)"/>
<ellipse cx="193.1" cy="111.8" rx="2.77" ry="1.62" fill="url(#qM2)"/>
<ellipse cx="193.1" cy="121.5" rx="2.77" ry="1.62" fill="url(#qL2)"/>
<ellipse cx="198.3" cy="111.3" rx="2.77" ry="1.62" fill="url(#qL2)"/>
<ellipse cx="198.3" cy="150.6" rx="2.77" ry="1.62" fill="url(#qL)"/>
<ellipse cx="198.3" cy="156.3" rx="2.77" ry="1.62" fill="url(#qL)"/>
<ellipse cx="198.3" cy="163.1" rx="2.77" ry="1.62" fill="url(#qL)"/>
<ellipse cx="198.3" cy="166.5" rx="2.77" ry="1.62" fill="url(#qL)"/>
<ellipse cx="198.3" cy="179.2" rx="2.77" ry="1.62" fill="url(#qL)"/>
<ellipse cx="198.3" cy="190.5" rx="2.77" ry="1.62" fill="url(#qL)"/>
<ellipse cx="202.5" cy="94.5" rx="2.77" ry="1.62" fill="url(#qL2)"/>
<ellipse cx="202.5" cy="131.9" rx="2.77" ry="1.62" fill="url(#qL2)"/>
<ellipse cx="202.5" cy="147.8" rx="2.77" ry="1.62" fill="url(#qL2)"/>
<ellipse cx="202.5" cy="152.9" rx="2.77" ry="1.62" fill="url(#qL2)"/>
<ellipse cx="202.5" cy="155.1" rx="2.77" ry="1.62" fill="url(#qM)"/>
<ellipse cx="202.5" cy="162.9" rx="2.77" ry="1.62" fill="url(#qL2)"/>
<ellipse cx="202.5" cy="171.8" rx="2.77" ry="1.62" fill="url(#qL2)"/>
<ellipse cx="202.5" cy="174.0" rx="2.77" ry="1.62" fill="url(#qL2)"/>
<ellipse cx="202.5" cy="186.0" rx="2.77" ry="1.62" fill="url(#qL)"/>
<ellipse cx="202.5" cy="195.0" rx="2.77" ry="1.62" fill="url(#qL)"/>
<ellipse cx="207.6" cy="134.7" rx="2.77" ry="1.62" fill="url(#qL)"/>
<ellipse cx="207.6" cy="140.6" rx="2.77" ry="1.62" fill="url(#qM)"/>
<ellipse cx="207.6" cy="145.5" rx="2.77" ry="1.62" fill="url(#qL2)"/>
<ellipse cx="207.6" cy="149.5" rx="2.77" ry="1.62" fill="url(#qL)"/>
<ellipse cx="207.6" cy="158.3" rx="2.77" ry="1.62" fill="url(#qL)"/>
<ellipse cx="207.6" cy="165.8" rx="2.77" ry="1.62" fill="url(#qM)"/>
<ellipse cx="207.6" cy="170.1" rx="2.77" ry="1.62" fill="url(#qL2)"/>
<ellipse cx="207.6" cy="173.5" rx="2.77" ry="1.62" fill="url(#qL)"/>
<ellipse cx="207.6" cy="182.6" rx="2.77" ry="1.62" fill="url(#qL)"/>
<ellipse cx="207.6" cy="192.2" rx="2.77" ry="1.62" fill="url(#qL)"/>
<ellipse cx="207.6" cy="201.3" rx="2.77" ry="1.62" fill="url(#qL)"/>
<ellipse cx="212.7" cy="132.5" rx="2.77" ry="1.62" fill="url(#qL2)"/>
<ellipse cx="212.7" cy="139.8" rx="2.77" ry="1.62" fill="url(#qM)"/>
<ellipse cx="212.7" cy="143.8" rx="2.77" ry="1.62" fill="url(#qM2)"/>
<ellipse cx="212.7" cy="151.7" rx="2.77" ry="1.62" fill="url(#qM)"/>
<ellipse cx="212.7" cy="154.0" rx="2.77" ry="1.62" fill="url(#qM)"/>
<ellipse cx="212.7" cy="160.2" rx="2.77" ry="1.62" fill="url(#qM)"/>
<ellipse cx="212.7" cy="175.8" rx="2.77" ry="1.62" fill="url(#qL2)"/>
<ellipse cx="212.7" cy="179.7" rx="2.77" ry="1.62" fill="url(#qL)"/>
<ellipse cx="212.7" cy="186.5" rx="2.77" ry="1.62" fill="url(#qL)"/>
<ellipse cx="212.7" cy="191.6" rx="2.77" ry="1.62" fill="url(#qL)"/>
<ellipse cx="212.7" cy="204.0" rx="2.77" ry="1.62" fill="url(#qL)"/>
<ellipse cx="217.6" cy="83.0" rx="2.77" ry="1.62" fill="url(#qL2)"/>
<ellipse cx="217.6" cy="92.6" rx="2.77" ry="1.62" fill="url(#qL2)"/>
<ellipse cx="217.6" cy="117.9" rx="2.77" ry="1.62" fill="url(#qL2)"/>
<ellipse cx="217.6" cy="141.5" rx="2.77" ry="1.62" fill="url(#qM)"/>
<ellipse cx="217.6" cy="148.9" rx="2.77" ry="1.62" fill="url(#qL)"/>
<ellipse cx="217.6" cy="156.3" rx="2.77" ry="1.62" fill="url(#qL)"/>
<ellipse cx="217.6" cy="160.8" rx="2.77" ry="1.62" fill="url(#qM)"/>
<ellipse cx="217.6" cy="167.6" rx="2.77" ry="1.62" fill="url(#qL)"/>
<ellipse cx="217.6" cy="185.4" rx="2.77" ry="1.62" fill="url(#qL)"/>
<ellipse cx="217.6" cy="195.6" rx="2.77" ry="1.62" fill="url(#qL)"/>
<ellipse cx="222.0" cy="144.4" rx="2.77" ry="1.62" fill="url(#qM)"/>
<ellipse cx="222.0" cy="147.8" rx="2.77" ry="1.62" fill="url(#qL)"/>
<ellipse cx="222.0" cy="151.7" rx="2.77" ry="1.62" fill="url(#qL2)"/>
<ellipse cx="222.0" cy="160.8" rx="2.77" ry="1.62" fill="url(#qM)"/>
<ellipse cx="222.0" cy="175.8" rx="2.77" ry="1.62" fill="url(#qL2)"/>
<ellipse cx="222.0" cy="179.7" rx="2.77" ry="1.62" fill="url(#qL)"/>
<ellipse cx="241.3" cy="107.2" rx="2.98" ry="2.08" fill="url(#gD)"/>
<ellipse cx="241.3" cy="111.7" rx="2.98" ry="2.08" fill="url(#gM)"/>
<ellipse cx="246.3" cy="100.2" rx="2.98" ry="2.08" fill="url(#gM2)"/>
<ellipse cx="246.3" cy="103.6" rx="2.98" ry="2.08" fill="url(#gM)"/>
<ellipse cx="246.3" cy="134.0" rx="2.98" ry="2.08" fill="url(#gM)"/>
<ellipse cx="251.2" cy="89.1" rx="2.98" ry="2.08" fill="url(#gD)"/>
<ellipse cx="256.0" cy="109.7" rx="2.98" ry="2.08" fill="url(#gV)"/>
<ellipse cx="256.0" cy="119.1" rx="2.98" ry="2.08" fill="url(#gM2)"/>
<ellipse cx="261.0" cy="88.8" rx="2.98" ry="2.08" fill="url(#gL2)"/>
<ellipse cx="261.0" cy="101.3" rx="2.98" ry="2.08" fill="url(#gL2)"/>
<ellipse cx="265.9" cy="94.5" rx="2.98" ry="2.08" fill="url(#gD)"/>
<ellipse cx="265.9" cy="102.7" rx="2.98" ry="2.08" fill="url(#gM2)"/>
<ellipse cx="265.9" cy="114.6" rx="2.98" ry="2.08" fill="url(#gD)"/>
<ellipse cx="265.9" cy="121.7" rx="2.98" ry="2.08" fill="url(#gD)"/>
<ellipse cx="271.0" cy="132.4" rx="2.98" ry="2.08" fill="url(#gM2)"/>
<ellipse cx="271.0" cy="152.2" rx="2.98" ry="2.08" fill="url(#gM)"/>
<ellipse cx="271.0" cy="155.6" rx="2.98" ry="2.08" fill="url(#gM)"/>
<ellipse cx="271.0" cy="164.1" rx="2.98" ry="2.08" fill="url(#gM)"/>
<ellipse cx="271.0" cy="169.8" rx="2.98" ry="2.08" fill="url(#gL)"/>
<ellipse cx="271.0" cy="179.6" rx="2.98" ry="2.08" fill="url(#gL2)"/>
<ellipse cx="275.5" cy="143.1" rx="2.98" ry="2.08" fill="url(#gM)"/>
<ellipse cx="275.5" cy="148.8" rx="2.98" ry="2.08" fill="url(#gM2)"/>
<ellipse cx="275.5" cy="153.3" rx="2.98" ry="2.08" fill="url(#gM)"/>
<ellipse cx="275.5" cy="172.9" rx="2.98" ry="2.08" fill="url(#gM)"/>
<ellipse cx="280.4" cy="142.0" rx="2.98" ry="2.08" fill="url(#gM)"/>
<ellipse cx="280.4" cy="161.3" rx="2.98" ry="2.08" fill="url(#gM)"/>
<ellipse cx="284.9" cy="137.2" rx="2.98" ry="2.08" fill="url(#gD)"/>
<ellipse cx="284.9" cy="146.0" rx="2.98" ry="2.08" fill="url(#gM)"/>
<ellipse cx="284.9" cy="148.8" rx="2.98" ry="2.08" fill="url(#gM)"/>
<ellipse cx="284.9" cy="152.8" rx="2.98" ry="2.08" fill="url(#gM2)"/>
<ellipse cx="284.9" cy="156.7" rx="2.98" ry="2.08" fill="url(#gM)"/>
<ellipse cx="284.9" cy="161.3" rx="2.98" ry="2.08" fill="url(#gL2)"/>
<ellipse cx="284.9" cy="164.7" rx="2.98" ry="2.08" fill="url(#gL2)"/>
<ellipse cx="284.9" cy="187.0" rx="2.98" ry="2.08" fill="url(#gL2)"/>
<ellipse cx="289.9" cy="143.7" rx="2.98" ry="2.08" fill="url(#gV)"/>
<ellipse cx="289.9" cy="155.0" rx="2.98" ry="2.08" fill="url(#gM)"/>
<ellipse cx="289.9" cy="164.7" rx="2.98" ry="2.08" fill="url(#gM)"/>
<ellipse cx="289.9" cy="168.7" rx="2.98" ry="2.08" fill="url(#gM)"/>
<ellipse cx="289.9" cy="194.4" rx="2.98" ry="2.08" fill="url(#gL)"/>
<ellipse cx="294.8" cy="140.9" rx="2.98" ry="2.08" fill="url(#gM2)"/>
<ellipse cx="294.8" cy="148.2" rx="2.98" ry="2.08" fill="url(#gM)"/>
<ellipse cx="294.8" cy="160.7" rx="2.98" ry="2.08" fill="url(#gM)"/>
<ellipse cx="294.8" cy="163.0" rx="2.98" ry="2.08" fill="url(#gM)"/>
<ellipse cx="294.8" cy="167.5" rx="2.98" ry="2.08" fill="url(#gL2)"/>
<ellipse cx="294.8" cy="173.3" rx="2.98" ry="2.08" fill="url(#gM)"/>
<ellipse cx="304.6" cy="124.6" rx="2.84" ry="1.95" fill="url(#gM)"/>
<ellipse cx="304.6" cy="150.8" rx="2.84" ry="1.95" fill="url(#gM)"/>
<ellipse cx="304.6" cy="154.2" rx="2.84" ry="1.95" fill="url(#gM)"/>
<ellipse cx="304.6" cy="159.8" rx="2.84" ry="1.95" fill="url(#gM)"/>
<ellipse cx="304.6" cy="167.2" rx="2.84" ry="1.95" fill="url(#gM)"/>
<ellipse cx="304.6" cy="176.3" rx="2.84" ry="1.95" fill="url(#gM2)"/>
<ellipse cx="304.6" cy="182.0" rx="2.84" ry="1.95" fill="url(#gM)"/>
<ellipse cx="304.6" cy="189.0" rx="2.84" ry="1.95" fill="url(#gM)"/>
<ellipse cx="309.2" cy="157.0" rx="2.84" ry="1.95" fill="url(#gM)"/>
<ellipse cx="309.2" cy="161.0" rx="2.84" ry="1.95" fill="url(#gM2)"/>
<ellipse cx="309.2" cy="170.0" rx="2.84" ry="1.95" fill="url(#gD)"/>
<ellipse cx="309.2" cy="176.8" rx="2.84" ry="1.95" fill="url(#gM)"/>
<ellipse cx="309.2" cy="179.1" rx="2.84" ry="1.95" fill="url(#gM)"/>
<ellipse cx="309.2" cy="185.4" rx="2.84" ry="1.95" fill="url(#gM)"/>
<ellipse cx="309.2" cy="189.5" rx="2.84" ry="1.95" fill="url(#gM)"/>
<ellipse cx="309.2" cy="197.5" rx="2.84" ry="1.95" fill="url(#gL2)"/>
<ellipse cx="309.2" cy="204.3" rx="2.84" ry="1.95" fill="url(#gL2)"/>
<ellipse cx="314.0" cy="159.8" rx="2.84" ry="1.95" fill="url(#gL2)"/>
<ellipse cx="314.0" cy="166.6" rx="2.84" ry="1.95" fill="url(#gM)"/>
<ellipse cx="314.0" cy="172.9" rx="2.84" ry="1.95" fill="url(#gM2)"/>
<ellipse cx="314.0" cy="178.5" rx="2.84" ry="1.95" fill="url(#gM)"/>
<ellipse cx="314.0" cy="185.2" rx="2.84" ry="1.95" fill="url(#gD)"/>
<ellipse cx="314.0" cy="193.5" rx="2.84" ry="1.95" fill="url(#gM)"/>
<ellipse cx="314.0" cy="198.6" rx="2.84" ry="1.95" fill="url(#gM)"/>
<ellipse cx="318.9" cy="147.4" rx="2.84" ry="1.95" fill="url(#gM2)"/>
<ellipse cx="318.9" cy="157.6" rx="2.84" ry="1.95" fill="url(#gM)"/>
<ellipse cx="318.9" cy="161.0" rx="2.84" ry="1.95" fill="url(#gM)"/>
<ellipse cx="318.9" cy="165.5" rx="2.84" ry="1.95" fill="url(#gM)"/>
<ellipse cx="318.9" cy="170.0" rx="2.84" ry="1.95" fill="url(#gM2)"/>
<ellipse cx="318.9" cy="174.0" rx="2.84" ry="1.95" fill="url(#gM)"/>
<ellipse cx="318.9" cy="178.5" rx="2.84" ry="1.95" fill="url(#gD)"/>
<ellipse cx="318.9" cy="187.5" rx="2.84" ry="1.95" fill="url(#gM)"/>
<ellipse cx="318.9" cy="193.5" rx="2.84" ry="1.95" fill="url(#gM)"/>
<ellipse cx="318.9" cy="202.0" rx="2.84" ry="1.95" fill="url(#gM)"/>
<ellipse cx="318.9" cy="214.5" rx="2.84" ry="1.95" fill="url(#gL)"/>
<ellipse cx="323.7" cy="159.3" rx="2.84" ry="1.95" fill="url(#gM)"/>
<ellipse cx="323.7" cy="169.5" rx="2.84" ry="1.95" fill="url(#gM2)"/>
<ellipse cx="323.7" cy="178.0" rx="2.84" ry="1.95" fill="url(#gM)"/>
<ellipse cx="323.7" cy="182.0" rx="2.84" ry="1.95" fill="url(#gM)"/>
<ellipse cx="323.7" cy="186.5" rx="2.84" ry="1.95" fill="url(#gM)"/>
<ellipse cx="323.7" cy="195.8" rx="2.84" ry="1.95" fill="url(#gM)"/>
<ellipse cx="323.7" cy="202.0" rx="2.84" ry="1.95" fill="url(#gL2)"/>
<ellipse cx="328.4" cy="151.3" rx="2.84" ry="1.95" fill="url(#gM)"/>
<ellipse cx="328.4" cy="162.7" rx="2.84" ry="1.95" fill="url(#gM)"/>
<ellipse cx="328.4" cy="170.6" rx="2.84" ry="1.95" fill="url(#gL2)"/>
<ellipse cx="328.4" cy="179.7" rx="2.84" ry="1.95" fill="url(#gM2)"/>
<ellipse cx="328.4" cy="183.1" rx="2.84" ry="1.95" fill="url(#gM)"/>
<ellipse cx="328.4" cy="190.1" rx="2.84" ry="1.95" fill="url(#gM2)"/>
<ellipse cx="328.4" cy="197.5" rx="2.84" ry="1.95" fill="url(#gL2)"/>
<ellipse cx="328.4" cy="203.1" rx="2.84" ry="1.95" fill="url(#gL)"/>
<ellipse cx="333.6" cy="113.4" rx="2.84" ry="1.95" fill="url(#gM2)"/>
<ellipse cx="333.6" cy="119.0" rx="2.84" ry="1.95" fill="url(#gM2)"/>
<ellipse cx="333.6" cy="127.0" rx="2.84" ry="1.95" fill="url(#gM2)"/>
<ellipse cx="333.6" cy="159.7" rx="2.84" ry="1.95" fill="url(#gM)"/>
<ellipse cx="333.6" cy="178.4" rx="2.84" ry="1.95" fill="url(#gM2)"/>
<ellipse cx="333.6" cy="181.3" rx="2.84" ry="1.95" fill="url(#gL2)"/>
<ellipse cx="333.6" cy="189.8" rx="2.84" ry="1.95" fill="url(#gL2)"/>
<ellipse cx="333.6" cy="195.7" rx="2.84" ry="1.95" fill="url(#gM)"/>
<ellipse cx="333.6" cy="217.2" rx="2.84" ry="1.95" fill="url(#gL2)"/>
<ellipse cx="338.5" cy="108.5" rx="2.84" ry="1.95" fill="url(#gD)"/>
<ellipse cx="338.5" cy="112.2" rx="2.84" ry="1.95" fill="url(#gM)"/>
<ellipse cx="338.5" cy="117.2" rx="2.84" ry="1.95" fill="url(#gM2)"/>
<ellipse cx="338.5" cy="129.3" rx="2.84" ry="1.95" fill="url(#gM2)"/>
<ellipse cx="338.5" cy="138.5" rx="2.84" ry="1.95" fill="url(#gM2)"/>
<ellipse cx="338.5" cy="155.8" rx="2.84" ry="1.95" fill="url(#gM)"/>
<ellipse cx="338.5" cy="174.5" rx="2.84" ry="1.95" fill="url(#gD)"/>
<ellipse cx="338.5" cy="182.4" rx="2.84" ry="1.95" fill="url(#gL2)"/>
<ellipse cx="338.5" cy="184.7" rx="2.84" ry="1.95" fill="url(#gL2)"/>
<ellipse cx="338.5" cy="192.6" rx="2.84" ry="1.95" fill="url(#gL2)"/>
<ellipse cx="338.5" cy="204.7" rx="2.84" ry="1.95" fill="url(#gL2)"/>
<ellipse cx="338.5" cy="211.0" rx="2.84" ry="1.95" fill="url(#gL)"/>
<ellipse cx="343.4" cy="122.7" rx="2.84" ry="1.95" fill="url(#gM2)"/>
<ellipse cx="343.4" cy="127.8" rx="2.84" ry="1.95" fill="url(#gD)"/>
<ellipse cx="343.4" cy="135.7" rx="2.84" ry="1.95" fill="url(#gM2)"/>
<ellipse cx="343.4" cy="154.6" rx="2.84" ry="1.95" fill="url(#gM)"/>
<ellipse cx="343.4" cy="175.6" rx="2.84" ry="1.95" fill="url(#gM2)"/>
<ellipse cx="343.4" cy="184.7" rx="2.84" ry="1.95" fill="url(#gM)"/>
<ellipse cx="343.4" cy="188.7" rx="2.84" ry="1.95" fill="url(#gM)"/>
<ellipse cx="343.4" cy="192.6" rx="2.84" ry="1.95" fill="url(#gL)"/>
<ellipse cx="343.4" cy="198.0" rx="2.84" ry="1.95" fill="url(#gM)"/>
<ellipse cx="343.4" cy="217.8" rx="2.84" ry="1.95" fill="url(#gL)"/>
<ellipse cx="347.9" cy="112.5" rx="2.84" ry="1.95" fill="url(#gL2)"/>
<ellipse cx="347.9" cy="114.7" rx="2.84" ry="1.95" fill="url(#gM)"/>
<ellipse cx="347.9" cy="123.8" rx="2.84" ry="1.95" fill="url(#gD)"/>
<ellipse cx="347.9" cy="127.8" rx="2.84" ry="1.95" fill="url(#gD)"/>
<ellipse cx="347.9" cy="134.0" rx="2.84" ry="1.95" fill="url(#gM)"/>
<ellipse cx="347.9" cy="144.0" rx="2.84" ry="1.95" fill="url(#gD)"/>
<ellipse cx="347.9" cy="146.8" rx="2.84" ry="1.95" fill="url(#gM)"/>
<ellipse cx="347.9" cy="170.5" rx="2.84" ry="1.95" fill="url(#gM)"/>
<ellipse cx="347.9" cy="178.4" rx="2.84" ry="1.95" fill="url(#gM)"/>
<ellipse cx="347.9" cy="185.3" rx="2.84" ry="1.95" fill="url(#gM)"/>
<ellipse cx="347.9" cy="192.8" rx="2.84" ry="1.95" fill="url(#gM)"/>
<ellipse cx="347.9" cy="201.3" rx="2.84" ry="1.95" fill="url(#gM)"/>
<ellipse cx="347.9" cy="214.4" rx="2.84" ry="1.95" fill="url(#gM)"/>
<ellipse cx="347.9" cy="217.2" rx="2.84" ry="1.95" fill="url(#gL)"/>
<ellipse cx="352.7" cy="115.9" rx="2.84" ry="1.95" fill="url(#gM2)"/>
<ellipse cx="352.7" cy="122.1" rx="2.84" ry="1.95" fill="url(#gM2)"/>
<ellipse cx="352.7" cy="127.0" rx="2.84" ry="1.95" fill="url(#gM2)"/>
<ellipse cx="352.7" cy="132.0" rx="2.84" ry="1.95" fill="url(#gM2)"/>
<ellipse cx="352.7" cy="158.4" rx="2.84" ry="1.95" fill="url(#gD)"/>
<ellipse cx="352.7" cy="162.6" rx="2.84" ry="1.95" fill="url(#gD)"/>
<ellipse cx="352.7" cy="169.0" rx="2.84" ry="1.95" fill="url(#gM2)"/>
<ellipse cx="352.7" cy="187.0" rx="2.84" ry="1.95" fill="url(#gL2)"/>
<ellipse cx="352.7" cy="194.5" rx="2.84" ry="1.95" fill="url(#gL2)"/>
<ellipse cx="352.7" cy="202.5" rx="2.84" ry="1.95" fill="url(#gL2)"/>
<ellipse cx="352.7" cy="220.0" rx="2.84" ry="1.95" fill="url(#gL)"/>
<ellipse cx="357.4" cy="121.0" rx="2.84" ry="1.95" fill="url(#gM)"/>
<ellipse cx="357.4" cy="124.4" rx="2.84" ry="1.95" fill="url(#gM)"/>
<ellipse cx="357.4" cy="127.8" rx="2.84" ry="1.95" fill="url(#gM2)"/>
<ellipse cx="357.4" cy="136.3" rx="2.84" ry="1.95" fill="url(#gM2)"/>
<ellipse cx="357.4" cy="139.5" rx="2.84" ry="1.95" fill="url(#gM2)"/>
<ellipse cx="357.4" cy="177.9" rx="2.84" ry="1.95" fill="url(#gD)"/>
<ellipse cx="357.4" cy="183.5" rx="2.84" ry="1.95" fill="url(#gL2)"/>
<ellipse cx="357.4" cy="191.7" rx="2.84" ry="1.95" fill="url(#gM2)"/>
<ellipse cx="357.4" cy="200.2" rx="2.84" ry="1.95" fill="url(#gM2)"/>
<ellipse cx="357.4" cy="204.7" rx="2.84" ry="1.95" fill="url(#gL2)"/>
<ellipse cx="357.4" cy="225.1" rx="2.84" ry="1.95" fill="url(#gL)"/>
<ellipse cx="362.2" cy="143.7" rx="2.84" ry="1.95" fill="url(#gD)"/>
<ellipse cx="362.2" cy="145.9" rx="2.84" ry="1.95" fill="url(#gD)"/>
<ellipse cx="362.2" cy="157.5" rx="2.84" ry="1.95" fill="url(#gD)"/>
<ellipse cx="362.2" cy="167.1" rx="2.84" ry="1.95" fill="url(#gM)"/>
<ellipse cx="362.2" cy="182.4" rx="2.84" ry="1.95" fill="url(#gM)"/>
<ellipse cx="366.7" cy="136.5" rx="2.84" ry="1.95" fill="url(#gM2)"/>
<ellipse cx="366.7" cy="166.3" rx="2.84" ry="1.95" fill="url(#gM)"/>
<ellipse cx="366.7" cy="172.2" rx="2.84" ry="1.95" fill="url(#gM)"/>
<ellipse cx="366.7" cy="186.4" rx="2.84" ry="1.95" fill="url(#gM)"/>
<ellipse cx="371.7" cy="108.5" rx="2.84" ry="1.95" fill="url(#gD)"/>
<ellipse cx="371.7" cy="139.9" rx="2.84" ry="1.95" fill="url(#gM2)"/>
<ellipse cx="371.7" cy="143.7" rx="2.84" ry="1.95" fill="url(#gM)"/>
<ellipse cx="371.7" cy="147.6" rx="2.84" ry="1.95" fill="url(#gM)"/>
<ellipse cx="371.7" cy="152.9" rx="2.84" ry="1.95" fill="url(#gV)"/>
<ellipse cx="371.7" cy="163.7" rx="2.84" ry="1.95" fill="url(#gL)"/>
<ellipse cx="371.7" cy="173.3" rx="2.84" ry="1.95" fill="url(#gM)"/>
<ellipse cx="371.7" cy="185.2" rx="2.84" ry="1.95" fill="url(#gL2)"/>
<ellipse cx="376.6" cy="146.3" rx="2.84" ry="1.95" fill="url(#gM)"/>
<ellipse cx="376.6" cy="152.4" rx="2.84" ry="1.95" fill="url(#gM)"/>
<ellipse cx="376.6" cy="156.3" rx="2.84" ry="1.95" fill="url(#gM2)"/>
<ellipse cx="376.6" cy="160.9" rx="2.84" ry="1.95" fill="url(#gD)"/>
<ellipse cx="376.6" cy="167.7" rx="2.84" ry="1.95" fill="url(#gM)"/>
<ellipse cx="381.1" cy="122.7" rx="2.84" ry="1.95" fill="url(#gD)"/>
<ellipse cx="381.1" cy="173.9" rx="2.84" ry="1.95" fill="url(#gM)"/>
<ellipse cx="381.1" cy="177.9" rx="2.84" ry="1.95" fill="url(#gL2)"/>
<ellipse cx="381.1" cy="185.8" rx="2.84" ry="1.95" fill="url(#gM)"/>
<ellipse cx="386.0" cy="138.0" rx="2.84" ry="1.95" fill="url(#gL2)"/>
<ellipse cx="386.0" cy="142.0" rx="2.84" ry="1.95" fill="url(#gM2)"/>
<ellipse cx="386.0" cy="160.6" rx="2.84" ry="1.95" fill="url(#gM)"/>
<ellipse cx="386.0" cy="172.0" rx="2.84" ry="1.95" fill="url(#gM2)"/>
<ellipse cx="386.0" cy="197.4" rx="2.84" ry="1.95" fill="url(#gL2)"/>
<ellipse cx="395.0" cy="180.8" rx="2.77" ry="1.62" fill="url(#hM)"/>
<ellipse cx="395.0" cy="198.3" rx="2.77" ry="1.62" fill="url(#hM)"/>
<ellipse cx="395.0" cy="200.5" rx="2.77" ry="1.62" fill="url(#hM)"/>
<ellipse cx="395.0" cy="215.3" rx="2.77" ry="1.62" fill="url(#hM)"/>
<ellipse cx="395.0" cy="221.3" rx="2.77" ry="1.62" fill="url(#hL2)"/>
<ellipse cx="395.0" cy="225.3" rx="2.77" ry="1.62" fill="url(#hL2)"/>
<ellipse cx="395.0" cy="244.6" rx="2.77" ry="1.62" fill="url(#hL)"/>
<ellipse cx="399.9" cy="181.1" rx="2.77" ry="1.62" fill="url(#hM)"/>
<ellipse cx="399.9" cy="197.0" rx="2.77" ry="1.62" fill="url(#hL2)"/>
<ellipse cx="399.9" cy="217.6" rx="2.77" ry="1.62" fill="url(#hL2)"/>
<ellipse cx="399.9" cy="224.7" rx="2.77" ry="1.62" fill="url(#hL)"/>
<ellipse cx="399.9" cy="232.1" rx="2.77" ry="1.62" fill="url(#hL)"/>
<ellipse cx="399.9" cy="237.8" rx="2.77" ry="1.62" fill="url(#hL2)"/>
<ellipse cx="399.9" cy="244.6" rx="2.77" ry="1.62" fill="url(#hL)"/>
<ellipse cx="404.8" cy="221.3" rx="2.77" ry="1.62" fill="url(#hL2)"/>
<ellipse cx="404.8" cy="228.1" rx="2.77" ry="1.62" fill="url(#hL2)"/>
<ellipse cx="404.8" cy="234.4" rx="2.77" ry="1.62" fill="url(#hL)"/>
<ellipse cx="404.8" cy="245.1" rx="2.77" ry="1.62" fill="url(#hL)"/>
<ellipse cx="409.5" cy="167.0" rx="2.77" ry="1.62" fill="url(#hL2)"/>
<ellipse cx="409.5" cy="213.2" rx="2.77" ry="1.62" fill="url(#hL2)"/>
<ellipse cx="409.5" cy="221.9" rx="2.77" ry="1.62" fill="url(#hL)"/>
<ellipse cx="409.5" cy="229.8" rx="2.77" ry="1.62" fill="url(#hL2)"/>
<ellipse cx="409.5" cy="233.8" rx="2.77" ry="1.62" fill="url(#hL2)"/>
<ellipse cx="409.5" cy="240.0" rx="2.77" ry="1.62" fill="url(#hL)"/>
<ellipse cx="414.1" cy="120.3" rx="2.77" ry="1.62" fill="url(#hM2)"/>
<ellipse cx="414.1" cy="155.6" rx="2.77" ry="1.62" fill="url(#hL)"/>
<ellipse cx="414.1" cy="161.8" rx="2.77" ry="1.62" fill="url(#hM)"/>
<ellipse cx="414.1" cy="203.4" rx="2.77" ry="1.62" fill="url(#hL2)"/>
<ellipse cx="414.1" cy="213.1" rx="2.77" ry="1.62" fill="url(#hL2)"/>
<ellipse cx="414.1" cy="217.5" rx="2.77" ry="1.62" fill="url(#hL2)"/>
<ellipse cx="414.1" cy="226.4" rx="2.77" ry="1.62" fill="url(#hL2)"/>
<ellipse cx="414.1" cy="245.1" rx="2.77" ry="1.62" fill="url(#hL)"/>
<ellipse cx="426.8" cy="101.5" rx="2.77" ry="1.62" fill="url(#gM)"/>
<ellipse cx="426.8" cy="103.5" rx="2.77" ry="1.62" fill="url(#gD)"/>
<ellipse cx="426.8" cy="110.6" rx="2.77" ry="1.62" fill="url(#gM2)"/>
<ellipse cx="426.8" cy="201.0" rx="2.77" ry="1.62" fill="url(#gL2)"/>
<ellipse cx="426.8" cy="204.4" rx="2.77" ry="1.62" fill="url(#gL2)"/>
<ellipse cx="426.8" cy="207.8" rx="2.77" ry="1.62" fill="url(#gL2)"/>
<ellipse cx="426.8" cy="216.3" rx="2.77" ry="1.62" fill="url(#gM)"/>
<ellipse cx="426.8" cy="222.0" rx="2.77" ry="1.62" fill="url(#gL2)"/>
<ellipse cx="426.8" cy="232.3" rx="2.77" ry="1.62" fill="url(#gL)"/>
<ellipse cx="431.0" cy="96.8" rx="2.77" ry="1.62" fill="url(#gM)"/>
<ellipse cx="431.0" cy="99.3" rx="2.77" ry="1.62" fill="url(#gD)"/>
<ellipse cx="431.0" cy="103.8" rx="2.77" ry="1.62" fill="url(#gL2)"/>
<ellipse cx="431.0" cy="107.2" rx="2.77" ry="1.62" fill="url(#gM2)"/>
<ellipse cx="431.0" cy="199.3" rx="2.77" ry="1.62" fill="url(#gL2)"/>
<ellipse cx="431.0" cy="203.8" rx="2.77" ry="1.62" fill="url(#gL)"/>
<ellipse cx="431.0" cy="207.2" rx="2.77" ry="1.62" fill="url(#gL2)"/>
<ellipse cx="431.0" cy="213.4" rx="2.77" ry="1.62" fill="url(#gL)"/>
<ellipse cx="431.0" cy="218.0" rx="2.77" ry="1.62" fill="url(#gM)"/>
<ellipse cx="431.0" cy="224.8" rx="2.77" ry="1.62" fill="url(#gL2)"/>
<ellipse cx="431.0" cy="228.6" rx="2.77" ry="1.62" fill="url(#gL)"/>
<ellipse cx="431.0" cy="235.4" rx="2.77" ry="1.62" fill="url(#gL)"/>
<ellipse cx="431.0" cy="239.0" rx="2.77" ry="1.62" fill="url(#gL)"/>
<ellipse cx="435.2" cy="99.0" rx="2.77" ry="1.62" fill="url(#gL)"/>
<ellipse cx="435.2" cy="104.7" rx="2.77" ry="1.62" fill="url(#gM2)"/>
<ellipse cx="435.2" cy="107.2" rx="2.77" ry="1.62" fill="url(#gD)"/>
<ellipse cx="435.2" cy="130.8" rx="2.77" ry="1.62" fill="url(#gM)"/>
<ellipse cx="435.2" cy="191.9" rx="2.77" ry="1.62" fill="url(#gL2)"/>
<ellipse cx="435.2" cy="207.0" rx="2.77" ry="1.62" fill="url(#gM2)"/>
<ellipse cx="435.2" cy="211.2" rx="2.77" ry="1.62" fill="url(#gM)"/>
<ellipse cx="435.2" cy="218.0" rx="2.77" ry="1.62" fill="url(#gM)"/>
<ellipse cx="435.2" cy="228.6" rx="2.77" ry="1.62" fill="url(#gL)"/>
<ellipse cx="439.7" cy="153.7" rx="2.77" ry="1.62" fill="url(#gL2)"/>
<ellipse cx="439.7" cy="100.4" rx="2.77" ry="1.62" fill="url(#gM)"/>
<ellipse cx="439.7" cy="103.2" rx="2.77" ry="1.62" fill="url(#gD)"/>
<ellipse cx="439.7" cy="106.3" rx="2.77" ry="1.62" fill="url(#gM2)"/>
<ellipse cx="439.7" cy="109.7" rx="2.77" ry="1.62" fill="url(#gM2)"/>
<ellipse cx="439.7" cy="194.5" rx="2.77" ry="1.62" fill="url(#gM)"/>
<ellipse cx="439.7" cy="206.1" rx="2.77" ry="1.62" fill="url(#gL)"/>
<ellipse cx="439.7" cy="210.6" rx="2.77" ry="1.62" fill="url(#gL2)"/>
<ellipse cx="439.7" cy="212.9" rx="2.77" ry="1.62" fill="url(#gL2)"/>
<ellipse cx="439.7" cy="217.4" rx="2.77" ry="1.62" fill="url(#gL)"/>
<ellipse cx="439.7" cy="225.5" rx="2.77" ry="1.62" fill="url(#gL)"/>
<ellipse cx="439.7" cy="229.2" rx="2.77" ry="1.62" fill="url(#gL)"/>
<ellipse cx="439.7" cy="231.7" rx="2.77" ry="1.62" fill="url(#gL)"/>
<ellipse cx="439.7" cy="235.4" rx="2.77" ry="1.62" fill="url(#gL)"/>
<ellipse cx="444.0" cy="172.0" rx="2.77" ry="1.62" fill="url(#gL2)"/>
<ellipse cx="444.0" cy="95.6" rx="2.77" ry="1.62" fill="url(#gL2)"/>
<ellipse cx="444.0" cy="98.1" rx="2.77" ry="1.62" fill="url(#gM)"/>
<ellipse cx="444.0" cy="101.0" rx="2.77" ry="1.62" fill="url(#gM)"/>
<ellipse cx="444.0" cy="104.0" rx="2.77" ry="1.62" fill="url(#gM)"/>
<ellipse cx="444.0" cy="107.8" rx="2.77" ry="1.62" fill="url(#gM2)"/>
<ellipse cx="444.0" cy="110.4" rx="2.77" ry="1.62" fill="url(#gM)"/>
<ellipse cx="444.0" cy="201.5" rx="2.77" ry="1.62" fill="url(#gL2)"/>
<ellipse cx="444.0" cy="209.5" rx="2.77" ry="1.62" fill="url(#gL)"/>
<ellipse cx="444.0" cy="217.4" rx="2.77" ry="1.62" fill="url(#gM)"/>
<ellipse cx="444.0" cy="223.1" rx="2.77" ry="1.62" fill="url(#gM)"/>
<ellipse cx="444.0" cy="226.2" rx="2.77" ry="1.62" fill="url(#gL)"/>
<ellipse cx="448.5" cy="94.7" rx="2.77" ry="1.62" fill="url(#gL)"/>
<ellipse cx="448.5" cy="97.6" rx="2.77" ry="1.62" fill="url(#gL2)"/>
<ellipse cx="448.5" cy="101.0" rx="2.77" ry="1.62" fill="url(#gM)"/>
<ellipse cx="448.5" cy="103.8" rx="2.77" ry="1.62" fill="url(#gM2)"/>
<ellipse cx="448.5" cy="107.0" rx="2.77" ry="1.62" fill="url(#gM2)"/>
<ellipse cx="448.5" cy="201.5" rx="2.77" ry="1.62" fill="url(#gL2)"/>
<ellipse cx="448.5" cy="204.4" rx="2.77" ry="1.62" fill="url(#gL)"/>
<ellipse cx="448.5" cy="210.6" rx="2.77" ry="1.62" fill="url(#gM)"/>
<ellipse cx="448.5" cy="219.7" rx="2.77" ry="1.62" fill="url(#gL)"/>
<ellipse cx="457.1" cy="110.4" rx="2.77" ry="1.62" fill="url(#gD)"/>
<ellipse cx="457.1" cy="113.8" rx="2.77" ry="1.62" fill="url(#gM2)"/>
<ellipse cx="457.1" cy="117.8" rx="2.77" ry="1.62" fill="url(#gD)"/>
<ellipse cx="457.1" cy="122.3" rx="2.77" ry="1.62" fill="url(#gM2)"/>
<ellipse cx="457.1" cy="130.2" rx="2.77" ry="1.62" fill="url(#gM2)"/>
<ellipse cx="457.1" cy="173.0" rx="2.77" ry="1.62" fill="url(#gM)"/>
<ellipse cx="457.1" cy="221.5" rx="2.77" ry="1.62" fill="url(#gL)"/>
<ellipse cx="462.0" cy="104.7" rx="2.77" ry="1.62" fill="url(#gM2)"/>
<ellipse cx="462.0" cy="109.8" rx="2.77" ry="1.62" fill="url(#gM2)"/>
<ellipse cx="462.0" cy="113.2" rx="2.77" ry="1.62" fill="url(#gD)"/>
<ellipse cx="462.0" cy="116.0" rx="2.77" ry="1.62" fill="url(#gD)"/>
<ellipse cx="462.0" cy="119.3" rx="2.77" ry="1.62" fill="url(#gD)"/>
<ellipse cx="462.0" cy="122.9" rx="2.77" ry="1.62" fill="url(#gM2)"/>
<ellipse cx="462.0" cy="125.1" rx="2.77" ry="1.62" fill="url(#gM2)"/>
<ellipse cx="462.0" cy="135.4" rx="2.77" ry="1.62" fill="url(#gM2)"/>
<ellipse cx="462.0" cy="185.7" rx="2.77" ry="1.62" fill="url(#gM)"/>
<ellipse cx="462.0" cy="197.6" rx="2.77" ry="1.62" fill="url(#gM)"/>
<ellipse cx="462.0" cy="223.1" rx="2.77" ry="1.62" fill="url(#gL)"/>
<ellipse cx="462.0" cy="226.5" rx="2.77" ry="1.62" fill="url(#gL2)"/>
<ellipse cx="462.0" cy="228.0" rx="2.77" ry="1.62" fill="url(#gL)"/>
<ellipse cx="462.0" cy="239.7" rx="2.77" ry="1.62" fill="url(#gL)"/>
<ellipse cx="462.0" cy="246.5" rx="2.77" ry="1.62" fill="url(#gL)"/>
<ellipse cx="466.2" cy="89.8" rx="2.77" ry="1.62" fill="url(#gM2)"/>
<ellipse cx="466.2" cy="106.8" rx="2.77" ry="1.62" fill="url(#gD)"/>
<ellipse cx="466.2" cy="109.0" rx="2.77" ry="1.62" fill="url(#gD)"/>
<ellipse cx="466.2" cy="111.0" rx="2.77" ry="1.62" fill="url(#gD)"/>
<ellipse cx="466.2" cy="115.0" rx="2.77" ry="1.62" fill="url(#gV)"/>
<ellipse cx="466.2" cy="117.2" rx="2.77" ry="1.62" fill="url(#gD)"/>
<ellipse cx="466.2" cy="120.6" rx="2.77" ry="1.62" fill="url(#gM2)"/>
<ellipse cx="466.2" cy="126.3" rx="2.77" ry="1.62" fill="url(#gD)"/>
<ellipse cx="466.2" cy="134.2" rx="2.77" ry="1.62" fill="url(#gM)"/>
<ellipse cx="466.2" cy="230.5" rx="2.77" ry="1.62" fill="url(#gL)"/>
<ellipse cx="466.2" cy="235.4" rx="2.77" ry="1.62" fill="url(#gL)"/>
<ellipse cx="466.2" cy="244.0" rx="2.77" ry="1.62" fill="url(#gL)"/>
<ellipse cx="470.4" cy="100.8" rx="2.77" ry="1.62" fill="url(#gM2)"/>
<ellipse cx="470.4" cy="105.3" rx="2.77" ry="1.62" fill="url(#gM)"/>
<ellipse cx="470.4" cy="111.0" rx="2.77" ry="1.62" fill="url(#gD)"/>
<ellipse cx="470.4" cy="114.4" rx="2.77" ry="1.62" fill="url(#gD)"/>
<ellipse cx="470.4" cy="117.8" rx="2.77" ry="1.62" fill="url(#gM2)"/>
<ellipse cx="470.4" cy="121.7" rx="2.77" ry="1.62" fill="url(#gD)"/>
<ellipse cx="470.4" cy="124.0" rx="2.77" ry="1.62" fill="url(#gM2)"/>
<ellipse cx="470.4" cy="133.6" rx="2.77" ry="1.62" fill="url(#gL2)"/>
<ellipse cx="470.4" cy="151.1" rx="2.77" ry="1.62" fill="url(#gM)"/>
<ellipse cx="470.4" cy="210.6" rx="2.77" ry="1.62" fill="url(#gL2)"/>
<ellipse cx="470.4" cy="226.5" rx="2.77" ry="1.62" fill="url(#gL)"/>
<ellipse cx="470.4" cy="233.0" rx="2.77" ry="1.62" fill="url(#gL)"/>
<ellipse cx="470.4" cy="237.2" rx="2.77" ry="1.62" fill="url(#gL)"/>
<ellipse cx="474.9" cy="104.7" rx="2.77" ry="1.62" fill="url(#gM2)"/>
<ellipse cx="474.9" cy="110.4" rx="2.77" ry="1.62" fill="url(#gD)"/>
<ellipse cx="474.9" cy="113.2" rx="2.77" ry="1.62" fill="url(#gD)"/>
<ellipse cx="474.9" cy="117.2" rx="2.77" ry="1.62" fill="url(#gD)"/>
<ellipse cx="474.9" cy="119.5" rx="2.77" ry="1.62" fill="url(#gD)"/>
<ellipse cx="474.9" cy="122.9" rx="2.77" ry="1.62" fill="url(#gM2)"/>
<ellipse cx="474.9" cy="175.2" rx="2.77" ry="1.62" fill="url(#gL)"/>
<ellipse cx="474.9" cy="213.4" rx="2.77" ry="1.62" fill="url(#gL2)"/>
<ellipse cx="474.9" cy="220.2" rx="2.77" ry="1.62" fill="url(#gL2)"/>
<ellipse cx="474.9" cy="228.0" rx="2.77" ry="1.62" fill="url(#gL)"/>
<ellipse cx="474.9" cy="238.5" rx="2.77" ry="1.62" fill="url(#gL)"/>
<ellipse cx="474.9" cy="244.0" rx="2.77" ry="1.62" fill="url(#gL)"/>
<ellipse cx="479.4" cy="105.9" rx="2.77" ry="1.62" fill="url(#gM2)"/>
<ellipse cx="479.4" cy="111.0" rx="2.77" ry="1.62" fill="url(#gM2)"/>
<ellipse cx="479.4" cy="116.0" rx="2.77" ry="1.62" fill="url(#gD)"/>
<ellipse cx="479.4" cy="120.0" rx="2.77" ry="1.62" fill="url(#gM2)"/>
<ellipse cx="479.4" cy="130.8" rx="2.77" ry="1.62" fill="url(#gM)"/>
<ellipse cx="479.4" cy="153.7" rx="2.77" ry="1.62" fill="url(#gM)"/>
<ellipse cx="479.4" cy="172.4" rx="2.77" ry="1.62" fill="url(#gM)"/>
<ellipse cx="479.4" cy="236.0" rx="2.77" ry="1.62" fill="url(#gL)"/>
<ellipse cx="479.4" cy="241.0" rx="2.77" ry="1.62" fill="url(#gL)"/>
</g>
<polygon points="39.5,41 43.7,41 40.9,186 36.7,186" fill="url(#ldbg)"/>
<polygon points="39.5,41 43.7,41 40.9,186 36.7,186" fill="url(#stripe)" opacity="0.3"/>
<rect x="39.5" y="41" width="4.2" height="7" fill="url(#ldtop)" />
<rect x="39.3" y="48.3" width="4.2" height="2.2" fill="#3c3c3c"/>
<rect x="39.3" y="51.4" width="4.2" height="2.2" fill="#646464"/>
<rect x="39.2" y="56.4" width="4.2" height="2.2" fill="#3c3c3c"/>
<rect x="39.1" y="62.9" width="4.2" height="2.2" fill="#3c3c3c"/>
<ellipse cx="41.0" cy="72.8" rx="2.4" ry="1.9" fill="#050505"/>
<ellipse cx="40.8" cy="82.9" rx="2.4" ry="1.9" fill="#050505"/>
<ellipse cx="40.7" cy="87.9" rx="2.4" ry="1.9" fill="#050505"/>
<ellipse cx="40.6" cy="94.4" rx="2.4" ry="1.9" fill="#050505"/>
<ellipse cx="40.4" cy="101.8" rx="2.4" ry="1.9" fill="#050505"/>
<ellipse cx="40.2" cy="111.6" rx="2.4" ry="1.9" fill="#050505"/>
<ellipse cx="40.0" cy="123.3" rx="2.4" ry="1.9" fill="#050505"/>
<ellipse cx="39.7" cy="137.9" rx="2.4" ry="1.9" fill="#050505"/>
<ellipse cx="39.3" cy="158" rx="2.4" ry="1.9" fill="#050505"/>
<ellipse cx="39.1" cy="171.6" rx="2.4" ry="1.9" fill="#050505"/>
<ellipse cx="38.8" cy="186" rx="2.4" ry="1.9" fill="#050505"/>
<ellipse cx="38.4" cy="206" rx="2.2" ry="1.7" fill="url(#gL2)"/>
<ellipse cx="38.0" cy="230" rx="2.2" ry="1.7" fill="url(#gM)"/>
<ellipse cx="37.7" cy="244.8" rx="2.2" ry="1.7" fill="url(#gL2)"/>
<ellipse cx="37.4" cy="260.6" rx="2.2" ry="1.7" fill="url(#gL2)"/>
<polygon points="103.1,40.5 107.3,40.5 105.8,180 101.6,180" fill="url(#ldbg)"/>
<polygon points="103.1,40.5 107.3,40.5 105.8,180 101.6,180" fill="url(#stripe)" opacity="0.3"/>
<rect x="103.1" y="40.5" width="4.2" height="8.100000000000001" fill="url(#ldtop)" />
<rect x="103.0" y="50.2" width="4.2" height="2.2" fill="#3c3c3c"/>
<rect x="102.9" y="54.3" width="4.2" height="2.2" fill="#3c3c3c"/>
<rect x="102.9" y="61.1" width="4.2" height="2.2" fill="#646464"/>
<ellipse cx="104.9" cy="70.1" rx="2.4" ry="1.9" fill="#050505"/>
<ellipse cx="104.8" cy="79.2" rx="2.4" ry="1.9" fill="#050505"/>
<ellipse cx="104.7" cy="85.1" rx="2.4" ry="1.9" fill="#050505"/>
<ellipse cx="104.7" cy="90.8" rx="2.4" ry="1.9" fill="#050505"/>
<ellipse cx="104.6" cy="98.4" rx="2.4" ry="1.9" fill="#050505"/>
<ellipse cx="104.5" cy="108" rx="2.4" ry="1.9" fill="#050505"/>
<ellipse cx="104.4" cy="119.5" rx="2.4" ry="1.9" fill="#050505"/>
<ellipse cx="104.2" cy="134.5" rx="2.4" ry="1.9" fill="#050505"/>
<ellipse cx="104.0" cy="153.8" rx="2.4" ry="1.9" fill="#050505"/>
<ellipse cx="103.8" cy="166.25" rx="2.4" ry="1.9" fill="#050505"/>
<ellipse cx="103.7" cy="180" rx="2.4" ry="1.9" fill="#050505"/>
<ellipse cx="103.5" cy="198.75" rx="2.2" ry="1.7" fill="url(#gM)"/>
<ellipse cx="103.3" cy="220.5" rx="2.2" ry="1.7" fill="url(#gM)"/>
<ellipse cx="103.1" cy="235" rx="2.2" ry="1.7" fill="url(#gL2)"/>
<ellipse cx="102.9" cy="250.7" rx="2.2" ry="1.7" fill="url(#gL2)"/>
<polygon points="224.3,41 228.5,41 231.1,185 226.9,185" fill="url(#ldbg)"/>
<polygon points="224.3,41 228.5,41 231.1,185 226.9,185" fill="url(#stripe)" opacity="0.3"/>
<rect x="224.3" y="41" width="4.2" height="7.5" fill="url(#ldtop)" />
<rect x="224.5" y="49.8" width="4.2" height="2.2" fill="#3c3c3c"/>
<rect x="224.5" y="52.6" width="4.2" height="2.2" fill="#646464"/>
<rect x="224.6" y="57.7" width="4.2" height="2.2" fill="#3c3c3c"/>
<rect x="224.7" y="64.1" width="4.2" height="2.2" fill="#3c3c3c"/>
<ellipse cx="227.0" cy="73" rx="2.4" ry="1.9" fill="#050505"/>
<ellipse cx="227.2" cy="83" rx="2.4" ry="1.9" fill="#050505"/>
<ellipse cx="227.3" cy="88.3" rx="2.4" ry="1.9" fill="#050505"/>
<ellipse cx="227.4" cy="95" rx="2.4" ry="1.9" fill="#050505"/>
<ellipse cx="227.5" cy="101.2" rx="2.4" ry="1.9" fill="#050505"/>
<ellipse cx="227.7" cy="111.7" rx="2.4" ry="1.9" fill="#050505"/>
<ellipse cx="227.9" cy="123.9" rx="2.4" ry="1.9" fill="#050505"/>
<ellipse cx="228.2" cy="138.2" rx="2.4" ry="1.9" fill="#050505"/>
<ellipse cx="228.5" cy="158.2" rx="2.4" ry="1.9" fill="#050505"/>
<ellipse cx="228.8" cy="171.3" rx="2.4" ry="1.9" fill="#050505"/>
<ellipse cx="229.0" cy="185" rx="2.4" ry="1.9" fill="#050505"/>
<ellipse cx="229.4" cy="205" rx="2.2" ry="1.7" fill="url(#gL2)"/>
<ellipse cx="229.8" cy="228" rx="2.2" ry="1.7" fill="url(#gM)"/>
<ellipse cx="230.0" cy="243" rx="2.2" ry="1.7" fill="url(#gL2)"/>
<rect x="233.6" y="41" width="4" height="150" fill="#e6e6e6"/>
<ellipse cx="235.6" cy="45.3" rx="2.8" ry="2.1" fill="url(#gL2)"/>
<ellipse cx="235.6" cy="50" rx="2.8" ry="2.1" fill="url(#gL2)"/>
<ellipse cx="235.7" cy="58.8" rx="2.8" ry="2.1" fill="url(#gM)"/>
<ellipse cx="235.7" cy="65.2" rx="2.8" ry="2.1" fill="url(#gM)"/>
<ellipse cx="235.8" cy="72.8" rx="2.8" ry="2.1" fill="url(#gM2)"/>
<ellipse cx="235.8" cy="81.8" rx="2.8" ry="2.1" fill="url(#gM2)"/>
<ellipse cx="235.8" cy="86.6" rx="2.8" ry="2.1" fill="url(#gM)"/>
<ellipse cx="235.9" cy="93" rx="2.8" ry="2.1" fill="url(#gM2)"/>
<ellipse cx="235.9" cy="100.3" rx="2.8" ry="2.1" fill="url(#gM2)"/>
<ellipse cx="236.0" cy="109.6" rx="2.8" ry="2.1" fill="url(#gM2)"/>
<ellipse cx="236.0" cy="120.7" rx="2.8" ry="2.1" fill="url(#gM2)"/>
<ellipse cx="236.1" cy="135.5" rx="2.8" ry="2.1" fill="url(#gM2)"/>
<ellipse cx="236.2" cy="155.3" rx="2.8" ry="2.1" fill="url(#gM2)"/>
<ellipse cx="236.3" cy="169" rx="2.8" ry="2.1" fill="url(#gM)"/>
<ellipse cx="236.4" cy="183" rx="2.8" ry="2.1" fill="url(#gM2)"/>
<ellipse cx="236.4" cy="200" rx="2.8" ry="2.1" fill="url(#gL)"/>
<ellipse cx="236.6" cy="225" rx="2.8" ry="2.1" fill="url(#gL)"/>
<ellipse cx="236.7" cy="240" rx="2.8" ry="2.1" fill="url(#gL)"/>
<rect x="297.6" y="40" width="4.8" height="125" fill="url(#stripe)" opacity="0.9"/>
<rect x="297.6" y="165" width="4.8" height="25" fill="url(#stripe)" opacity="0.35"/>
<ellipse cx="300" cy="69" rx="3.0" ry="2.1" fill="url(#gM)"/>
<ellipse cx="300" cy="79.4" rx="3.0" ry="2.1" fill="url(#gM)"/>
<ellipse cx="300" cy="90.6" rx="3.0" ry="2.1" fill="url(#gM)"/>
<ellipse cx="300" cy="98.5" rx="3.0" ry="2.1" fill="url(#gM)"/>
<ellipse cx="300" cy="107" rx="3.0" ry="2.1" fill="url(#gM)"/>
<ellipse cx="300" cy="119" rx="3.0" ry="2.1" fill="url(#gM)"/>
<ellipse cx="300" cy="133.6" rx="3.0" ry="2.1" fill="url(#gM)"/>
<ellipse cx="300" cy="154" rx="3.0" ry="2.1" fill="url(#gD)"/>
<ellipse cx="300" cy="181.5" rx="3.0" ry="2.1" fill="url(#gD)"/>
<rect x="417.9" y="40" width="4.6" height="35" fill="url(#stripe)" opacity="0.7"/>
<rect x="417.9" y="75" width="4.6" height="65" fill="url(#stripe)" opacity="0.95"/>
<rect x="417.9" y="140" width="4.6" height="52" fill="url(#stripe)" opacity="0.25"/>
<ellipse cx="420.2" cy="47" rx="3.0" ry="2.1" fill="url(#gL2)"/>
<ellipse cx="420.2" cy="74" rx="3.0" ry="2.1" fill="url(#gM)"/>
<ellipse cx="420.2" cy="82.6" rx="3.0" ry="2.1" fill="url(#gM)"/>
<ellipse cx="420.2" cy="89" rx="3.0" ry="2.1" fill="url(#gM)"/>
<ellipse cx="420.2" cy="95" rx="3.0" ry="2.1" fill="url(#gM)"/>
<ellipse cx="420.2" cy="101" rx="3.0" ry="2.1" fill="url(#gM)"/>
<ellipse cx="420.2" cy="111.3" rx="3.0" ry="2.1" fill="url(#gD)"/>
<ellipse cx="420.2" cy="122.7" rx="3.0" ry="2.1" fill="url(#gD)"/>
<ellipse cx="420.2" cy="138.5" rx="3.0" ry="2.1" fill="url(#gM2)"/>
<ellipse cx="420.2" cy="158.5" rx="3.0" ry="2.1" fill="url(#gM2)"/>
<ellipse cx="420.2" cy="172.6" rx="3.0" ry="2.1" fill="url(#gM2)"/>
<ellipse cx="420.2" cy="186.2" rx="3.0" ry="2.1" fill="url(#gM2)"/>
<line x1="44.3" y1="12" x2="41.4" y2="266.3" stroke="#9a9a9a" stroke-width="0.9" stroke-dasharray="1 1"/>
<line x1="73.3" y1="25" x2="72.5" y2="262.2" stroke="#9a9a9a" stroke-width="0.9" stroke-dasharray="1 1"/>
<line x1="103.0" y1="12" x2="101.6" y2="257.6" stroke="#9a9a9a" stroke-width="0.9" stroke-dasharray="1 1"/>
<line x1="107.5" y1="12" x2="106.3" y2="257.4" stroke="#9a9a9a" stroke-width="0.9" stroke-dasharray="1 1"/>
<line x1="137.0" y1="25" x2="137.0" y2="259.0" stroke="#9a9a9a" stroke-width="0.9" stroke-dasharray="1 1"/>
<line x1="166.3" y1="25" x2="167.8" y2="260.6" stroke="#9a9a9a" stroke-width="0.9" stroke-dasharray="1 1"/>
<line x1="195.3" y1="25" x2="197.2" y2="262.2" stroke="#9a9a9a" stroke-width="0.9" stroke-dasharray="1 1"/>
<line x1="224.0" y1="12" x2="227.2" y2="263.8" stroke="#9a9a9a" stroke-width="0.9" stroke-dasharray="1 1"/>
<line x1="238.7" y1="12" x2="238.7" y2="263.5" stroke="#9a9a9a" stroke-width="0.9" stroke-dasharray="1 1"/>
<line x1="268.4" y1="25" x2="268.4" y2="263.5" stroke="#9a9a9a" stroke-width="0.9" stroke-dasharray="1 1"/>
<line x1="297.7" y1="12" x2="297.7" y2="263.5" stroke="#9a9a9a" stroke-width="0.9" stroke-dasharray="1 1"/>
<line x1="302.5" y1="12" x2="302.3" y2="263.5" stroke="#9a9a9a" stroke-width="0.9" stroke-dasharray="1 1"/>
<line x1="331.2" y1="25" x2="331.0" y2="263.8" stroke="#9a9a9a" stroke-width="0.9" stroke-dasharray="1 1"/>
<line x1="360.3" y1="25" x2="360.3" y2="264.1" stroke="#9a9a9a" stroke-width="0.9" stroke-dasharray="1 1"/>
<line x1="388.8" y1="25" x2="388.7" y2="264.6" stroke="#9a9a9a" stroke-width="0.9" stroke-dasharray="1 1"/>
<line x1="418.0" y1="12" x2="417.5" y2="265.3" stroke="#9a9a9a" stroke-width="0.9" stroke-dasharray="1 1"/>
<line x1="422.5" y1="12" x2="422.4" y2="265.4" stroke="#9a9a9a" stroke-width="0.9" stroke-dasharray="1 1"/>
<line x1="450.3" y1="25" x2="450.2" y2="265.6" stroke="#9a9a9a" stroke-width="0.9" stroke-dasharray="1 1"/>
<line x1="455.0" y1="25" x2="455.0" y2="265.0" stroke="#9a9a9a" stroke-width="0.9" stroke-dasharray="1 1"/>
<line x1="481.2" y1="15" x2="481.2" y2="262.5" stroke="#9a9a9a" stroke-width="0.9" stroke-dasharray="1 1"/>
<polyline points="41.4,266.5 105,257.4 227,263.8 300,263.6 370,264.4 450.5,265.6 481.5,262.5" fill="none" stroke="#a0a0a0" stroke-width="1"/>
<line x1="56.7" y1="312.5" x2="56.7" y2="426.4" stroke="#333" stroke-width="1"/>
<line x1="56.7" y1="426.4" x2="227.2" y2="426.4" stroke="#333" stroke-width="1"/>
<line x1="53.5" y1="426.4" x2="56.7" y2="426.4" stroke="#1a1a1a" stroke-width="1"/>
<line x1="53.5" y1="415.1" x2="56.7" y2="415.1" stroke="#1a1a1a" stroke-width="1"/>
<line x1="53.5" y1="403.8" x2="56.7" y2="403.8" stroke="#1a1a1a" stroke-width="1"/>
<line x1="53.5" y1="392.6" x2="56.7" y2="392.6" stroke="#1a1a1a" stroke-width="1"/>
<line x1="53.5" y1="381.3" x2="56.7" y2="381.3" stroke="#1a1a1a" stroke-width="1"/>
<line x1="53.5" y1="370.0" x2="56.7" y2="370.0" stroke="#1a1a1a" stroke-width="1"/>
<line x1="53.5" y1="358.7" x2="56.7" y2="358.7" stroke="#1a1a1a" stroke-width="1"/>
<line x1="53.5" y1="347.4" x2="56.7" y2="347.4" stroke="#1a1a1a" stroke-width="1"/>
<line x1="53.5" y1="336.2" x2="56.7" y2="336.2" stroke="#1a1a1a" stroke-width="1"/>
<line x1="53.5" y1="324.9" x2="56.7" y2="324.9" stroke="#1a1a1a" stroke-width="1"/>
<line x1="53.5" y1="313.6" x2="56.7" y2="313.6" stroke="#1a1a1a" stroke-width="1"/>
<polyline points="85.9,319.5 85.9,313.8 200.6,313.8 200.6,360" fill="none" stroke="#4a4a4a" stroke-width="1.4"/>
<line x1="66" y1="368.7" x2="104" y2="368.7" stroke="#555" stroke-width="1.3"/>
<line x1="122.7" y1="383.4" x2="161" y2="383.4" stroke="#555" stroke-width="1.3"/>
<line x1="179.3" y1="400.3" x2="218" y2="400.3" stroke="#555" stroke-width="1.3"/>
<circle cx="85.2" cy="327.2" r="1.25" fill="#2e6552"/>
<circle cx="85.2" cy="332.5" r="1.25" fill="#2e6552"/>
<circle cx="85.2" cy="340.7" r="1.25" fill="#2e6552"/>
<circle cx="83.4" cy="343.5" r="1.25" fill="#2e6552"/>
<circle cx="86.8" cy="346" r="1.25" fill="#2e6552"/>
<circle cx="85.3" cy="358.6" r="1.25" fill="#2e6552"/>
<circle cx="85.3" cy="362.5" r="1.25" fill="#2e6552"/>
<circle cx="83.5" cy="366.8" r="1.25" fill="#2e6552"/>
<circle cx="87.1" cy="366.3" r="1.25" fill="#2e6552"/>
<circle cx="80" cy="370.7" r="1.25" fill="#2e6552"/>
<circle cx="83.5" cy="371.5" r="1.25" fill="#2e6552"/>
<circle cx="86.8" cy="371.5" r="1.25" fill="#2e6552"/>
<circle cx="90.5" cy="371.3" r="1.25" fill="#2e6552"/>
<circle cx="85.3" cy="376.4" r="1.25" fill="#2e6552"/>
<circle cx="85.3" cy="381.1" r="1.25" fill="#2e6552"/>
<circle cx="86.8" cy="384.7" r="1.25" fill="#2e6552"/>
<circle cx="83.6" cy="388.2" r="1.25" fill="#2e6552"/>
<circle cx="85.5" cy="391.8" r="1.25" fill="#2e6552"/>
<circle cx="81.4" cy="395.5" r="1.25" fill="#2e6552"/>
<circle cx="85" cy="397.7" r="1.25" fill="#2e6552"/>
<circle cx="88.6" cy="396.8" r="1.25" fill="#2e6552"/>
<path d="M140.3,362.5 L141.7,360.1 L143.1,362.5 Z" fill="#000"/>
<path d="M140.3,371.3 L141.7,368.9 L143.1,371.3 Z" fill="#000"/>
<path d="M142.3,388.9 L143.7,386.5 L145.1,388.9 Z" fill="#000"/>
<path d="M138.8,392.1 L140.2,389.7 L141.6,392.1 Z" fill="#000"/>
<path d="M140.3,395.9 L141.7,393.5 L143.1,395.9 Z" fill="#000"/>
<path d="M140.3,399.5 L141.7,397.1 L143.1,399.5 Z" fill="#000"/>
<path d="M197.3,386.6 L200.1,386.6 L198.7,389.0 Z" fill="#b02838"/>
<path d="M190.4,392.8 L193.2,392.8 L191.8,395.2 Z" fill="#b02838"/>
<path d="M193.6,395.0 L196.4,395.0 L195.0,397.4 Z" fill="#b02838"/>
<path d="M197.0,395.0 L199.8,395.0 L198.4,397.4 Z" fill="#b02838"/>
<path d="M200.5,395.0 L203.3,395.0 L201.9,397.4 Z" fill="#b02838"/>
<path d="M204.1,392.8 L206.9,392.8 L205.5,395.2 Z" fill="#b02838"/>
<path d="M195.4,400.0 L198.2,400.0 L196.8,402.4 Z" fill="#b02838"/>
<path d="M199.0,400.0 L201.8,400.0 L200.4,402.4 Z" fill="#b02838"/>
<path d="M192.0,402.3 L194.8,402.3 L193.4,404.7 Z" fill="#b02838"/>
<path d="M195.4,404.6 L198.2,404.6 L196.8,407.0 Z" fill="#b02838"/>
<path d="M199.0,404.6 L201.8,404.6 L200.4,407.0 Z" fill="#b02838"/>
<path d="M202.1,402.3 L204.9,402.3 L203.5,404.7 Z" fill="#b02838"/>
<path d="M197.3,414.5 L200.1,414.5 L198.7,416.9 Z" fill="#b02838"/>
<line x1="296.8" y1="312.5" x2="296.8" y2="426.4" stroke="#333" stroke-width="1"/>
<line x1="296.8" y1="426.4" x2="467.5" y2="426.4" stroke="#333" stroke-width="1"/>
<line x1="293.6" y1="426.4" x2="296.8" y2="426.4" stroke="#1a1a1a" stroke-width="1"/>
<line x1="293.6" y1="415.1" x2="296.8" y2="415.1" stroke="#1a1a1a" stroke-width="1"/>
<line x1="293.6" y1="403.8" x2="296.8" y2="403.8" stroke="#1a1a1a" stroke-width="1"/>
<line x1="293.6" y1="392.6" x2="296.8" y2="392.6" stroke="#1a1a1a" stroke-width="1"/>
<line x1="293.6" y1="381.3" x2="296.8" y2="381.3" stroke="#1a1a1a" stroke-width="1"/>
<line x1="293.6" y1="370.0" x2="296.8" y2="370.0" stroke="#1a1a1a" stroke-width="1"/>
<line x1="293.6" y1="358.7" x2="296.8" y2="358.7" stroke="#1a1a1a" stroke-width="1"/>
<line x1="293.6" y1="347.4" x2="296.8" y2="347.4" stroke="#1a1a1a" stroke-width="1"/>
<line x1="293.6" y1="336.2" x2="296.8" y2="336.2" stroke="#1a1a1a" stroke-width="1"/>
<line x1="293.6" y1="324.9" x2="296.8" y2="324.9" stroke="#1a1a1a" stroke-width="1"/>
<line x1="293.6" y1="313.6" x2="296.8" y2="313.6" stroke="#1a1a1a" stroke-width="1"/>
<polyline points="325.6,333.7 325.6,313.8 439,313.8 439,356" fill="none" stroke="#4a4a4a" stroke-width="1.4"/>
<line x1="306.5" y1="372" x2="344.6" y2="372" stroke="#555" stroke-width="1.3"/>
<line x1="363" y1="379.5" x2="401.7" y2="379.5" stroke="#555" stroke-width="1.3"/>
<line x1="420" y1="390.4" x2="458.4" y2="390.4" stroke="#555" stroke-width="1.3"/>
<circle cx="323.9" cy="347.1" r="1.25" fill="#2e6552"/>
<circle cx="327.7" cy="347.1" r="1.25" fill="#2e6552"/>
<circle cx="325.9" cy="351.1" r="1.25" fill="#2e6552"/>
<circle cx="323.9" cy="355.6" r="1.25" fill="#2e6552"/>
<circle cx="327.7" cy="357.4" r="1.25" fill="#2e6552"/>
<circle cx="325.9" cy="361.6" r="1.25" fill="#2e6552"/>
<circle cx="322.2" cy="366.3" r="1.25" fill="#2e6552"/>
<circle cx="325.9" cy="367" r="1.25" fill="#2e6552"/>
<circle cx="329.3" cy="365.9" r="1.25" fill="#2e6552"/>
<circle cx="322.3" cy="374.7" r="1.25" fill="#2e6552"/>
<circle cx="325.7" cy="375.6" r="1.25" fill="#2e6552"/>
<circle cx="329.1" cy="374.9" r="1.25" fill="#2e6552"/>
<circle cx="320.6" cy="379.1" r="1.25" fill="#2e6552"/>
<circle cx="323.9" cy="380.2" r="1.25" fill="#2e6552"/>
<circle cx="327.3" cy="380.7" r="1.25" fill="#2e6552"/>
<circle cx="330.9" cy="379.8" r="1.25" fill="#2e6552"/>
<circle cx="325.9" cy="387.1" r="1.25" fill="#2e6552"/>
<circle cx="323.9" cy="391.8" r="1.25" fill="#2e6552"/>
<circle cx="327.5" cy="394.1" r="1.25" fill="#2e6552"/>
<circle cx="325.9" cy="398" r="1.25" fill="#2e6552"/>
<path d="M381.3,347.4 L382.7,345.0 L384.1,347.4 Z" fill="#000"/>
<path d="M381.3,364.7 L382.7,362.3 L384.1,364.7 Z" fill="#000"/>
<path d="M381.3,384.3 L382.7,381.9 L384.1,384.3 Z" fill="#000"/>
<path d="M381.3,387.7 L382.7,385.3 L384.1,387.7 Z" fill="#000"/>
<path d="M379.5,390.4 L380.9,388.0 L382.3,390.4 Z" fill="#000"/>
<path d="M382.7,391.5 L384.1,389.1 L385.5,391.5 Z" fill="#000"/>
<path d="M381.3,401.0 L382.7,398.6 L384.1,401.0 Z" fill="#000"/>
<path d="M437.6,365.9 L440.4,365.9 L439.0,368.3 Z" fill="#b02838"/>
<path d="M436.0,382.6 L438.8,382.6 L437.4,385.0 Z" fill="#b02838"/>
<path d="M439.7,384.0 L442.5,384.0 L441.1,386.4 Z" fill="#b02838"/>
<path d="M432.9,390.0 L435.7,390.0 L434.3,392.4 Z" fill="#b02838"/>
<path d="M436.0,392.2 L438.8,392.2 L437.4,394.6 Z" fill="#b02838"/>
<path d="M439.3,390.0 L442.1,390.0 L440.7,392.4 Z" fill="#b02838"/>
<path d="M442.8,388.4 L445.6,388.4 L444.2,390.8 Z" fill="#b02838"/>
<path d="M439.3,394.5 L442.1,394.5 L440.7,396.9 Z" fill="#b02838"/>
<path d="M439.3,398.2 L442.1,398.2 L440.7,400.6 Z" fill="#b02838"/>
<path d="M436.0,400.9 L438.8,400.9 L437.4,403.3 Z" fill="#b02838"/>
<text x="0.6" y="12.9" font-size="17.2" text-anchor="start" font-weight="bold" font-style="normal" fill="#000" style="stroke-width:0.1px">A</text>
<text x="0" y="0" font-size="8.3" fill="#1a1a1a" style="stroke-width:0.35px" transform="translate(23.2 35) rotate(-90) scale(1.09 0.8)">XpYp</text>
<text x="0" y="0" font-size="8.3" fill="#1a1a1a" style="stroke-width:0.35px" transform="translate(33.6 35) rotate(-90) scale(1.0 0.84)">tel length</text>
<text x="0" y="0" font-size="8.3" fill="#1a1a1a" style="stroke-width:0.35px" transform="translate(488.0 34.8) rotate(-90) scale(1.09 0.8)">XpYp</text>
<text x="0" y="0" font-size="8.3" fill="#1a1a1a" style="stroke-width:0.35px" transform="translate(498.0 34.8) rotate(-90) scale(1.0 0.84)">tel length</text>
<text x="74" y="18.3" font-size="10.2" text-anchor="middle" font-weight="normal" font-style="normal" fill="#1a1a1a">Normal</text>
<text x="166.8" y="18.3" font-size="10.2" text-anchor="middle" font-weight="normal" font-style="normal" fill="#1a1a1a">Stage A</text>
<text x="269" y="18.3" font-size="10.2" text-anchor="middle" font-weight="normal" font-style="normal" fill="#1a1a1a">Stage B</text>
<text x="360.2" y="18.3" font-size="10.2" text-anchor="middle" font-weight="normal" font-style="normal" fill="#1a1a1a">Stage C</text>
<text x="451.7" y="18.3" font-size="10.2" text-anchor="middle" font-weight="normal" font-style="normal" fill="#1a1a1a">MRC5 E6E7</text>
<text x="59" y="37.4" font-size="10.2" text-anchor="middle" font-weight="normal" font-style="normal" fill="#1a1a1a">#1</text>
<text x="88.5" y="37.4" font-size="10.2" text-anchor="middle" font-weight="normal" font-style="normal" fill="#1a1a1a">#2</text>
<text x="120.8" y="37.4" font-size="10.2" text-anchor="middle" font-weight="normal" font-style="normal" fill="#1a1a1a">#1</text>
<text x="150" y="37.4" font-size="10.2" text-anchor="middle" font-weight="normal" font-style="normal" fill="#1a1a1a">#9</text>
<text x="178" y="37.4" font-size="10.2" text-anchor="middle" font-weight="normal" font-style="normal" fill="#1a1a1a">#4</text>
<text x="208.2" y="37.4" font-size="10.2" text-anchor="middle" font-weight="normal" font-style="normal" fill="#1a1a1a">#11</text>
<text x="253.8" y="37.4" font-size="10.2" text-anchor="middle" font-weight="normal" font-style="normal" fill="#1a1a1a">#22</text>
<text x="284.5" y="37.4" font-size="10.2" text-anchor="middle" font-weight="normal" font-style="normal" fill="#1a1a1a">#25</text>
<text x="316.8" y="37.4" font-size="10.2" text-anchor="middle" font-weight="normal" font-style="normal" fill="#1a1a1a">#41</text>
<text x="346.4" y="37.4" font-size="10.2" text-anchor="middle" font-weight="normal" font-style="normal" fill="#1a1a1a">#38</text>
<text x="375.5" y="37.4" font-size="10.2" text-anchor="middle" font-weight="normal" font-style="normal" fill="#1a1a1a">#31</text>
<text x="405.6" y="37.4" font-size="10.2" text-anchor="middle" font-weight="normal" font-style="normal" fill="#1a1a1a">#40</text>
<text x="437" y="37.4" font-size="10.2" text-anchor="middle" font-weight="normal" font-style="normal" fill="#1a1a1a">32</text>
<text x="468.2" y="37.4" font-size="10.2" text-anchor="middle" font-weight="normal" font-style="normal" fill="#1a1a1a">46</text>
<text x="37.3" y="52" font-size="8.3" text-anchor="end" font-weight="normal" font-style="normal" fill="#1a1a1a">22.1 kb-</text>
<text x="37.3" y="67.3" font-size="8.3" text-anchor="end" font-weight="normal" font-style="normal" fill="#1a1a1a">14.6 kb-</text>
<text x="37.3" y="90.7" font-size="8.3" text-anchor="end" font-weight="normal" font-style="normal" fill="#1a1a1a">8.6 kb-</text>
<text x="37.3" y="114.4" font-size="8.3" text-anchor="end" font-weight="normal" font-style="normal" fill="#1a1a1a">5.6 kb-</text>
<text x="37.3" y="160.7" font-size="8.3" text-anchor="end" font-weight="normal" font-style="normal" fill="#1a1a1a">2.6 kb-</text>
<text x="37.3" y="208.2" font-size="8.3" text-anchor="end" font-weight="normal" font-style="normal" fill="#1a1a1a">1.1 kb-</text>
<text x="37.3" y="247.8" font-size="8.3" text-anchor="end" font-weight="normal" font-style="normal" fill="#1a1a1a">0.3 kb-</text>
<text x="37.3" y="269.2" font-size="8.3" text-anchor="end" font-weight="normal" font-style="normal" fill="#1a1a1a">0 kb-</text>
<text x="482.2" y="55.5" font-size="8.3" text-anchor="start" font-weight="normal" font-style="normal" fill="#1a1a1a">-22.1 kb</text>
<text x="482.2" y="69" font-size="8.3" text-anchor="start" font-weight="normal" font-style="normal" fill="#1a1a1a">-14.6 kb</text>
<text x="482.2" y="91" font-size="8.3" text-anchor="start" font-weight="normal" font-style="normal" fill="#1a1a1a">-8.6 kb</text>
<text x="482.2" y="115.1" font-size="8.3" text-anchor="start" font-weight="normal" font-style="normal" fill="#1a1a1a">-5.6 kb</text>
<text x="482.2" y="163" font-size="8.3" text-anchor="start" font-weight="normal" font-style="normal" fill="#1a1a1a">-2.6 kb</text>
<text x="482.2" y="209.4" font-size="8.3" text-anchor="start" font-weight="normal" font-style="normal" fill="#1a1a1a">-1.1 kb</text>
<text x="482.2" y="246.8" font-size="8.3" text-anchor="start" font-weight="normal" font-style="normal" fill="#1a1a1a">-0.3 kb</text>
<text x="482.2" y="264.5" font-size="8.3" text-anchor="start" font-weight="normal" font-style="normal" fill="#1a1a1a">-0 kb</text>
<text x="37.4" y="277.2" font-size="8.3" text-anchor="end" font-weight="normal" font-style="normal" fill="#1a1a1a">Mean (kb)</text>
<text x="37.4" y="286.8" font-size="8.3" text-anchor="end" font-weight="normal" font-style="normal" fill="#1a1a1a">SD (kb)</text>
<text x="482" y="277.2" font-size="8.3" text-anchor="start" font-weight="normal" font-style="normal" fill="#1a1a1a">Mean (kb)</text>
<text x="482" y="286.8" font-size="8.3" text-anchor="start" font-weight="normal" font-style="normal" fill="#1a1a1a">SD (kb)</text>
<text x="57.3" y="277.2" font-size="8.3" text-anchor="middle" font-weight="normal" font-style="normal" fill="#1a1a1a">9.877</text>
<text x="86.2" y="277.2" font-size="8.3" text-anchor="middle" font-weight="normal" font-style="normal" fill="#1a1a1a">8.265</text>
<text x="118" y="277.2" font-size="8.3" text-anchor="middle" font-weight="normal" font-style="normal" fill="#1a1a1a">8.762</text>
<text x="151.7" y="277.2" font-size="8.3" text-anchor="middle" font-weight="normal" font-style="normal" fill="#1a1a1a">4.022</text>
<text x="183.2" y="277.2" font-size="8.3" text-anchor="middle" font-weight="normal" font-style="normal" fill="#1a1a1a">5.990</text>
<text x="213.2" y="277.2" font-size="8.3" text-anchor="middle" font-weight="normal" font-style="normal" fill="#1a1a1a">2.724</text>
<text x="254.4" y="277.2" font-size="8.3" text-anchor="middle" font-weight="normal" font-style="normal" fill="#1a1a1a">5.773</text>
<text x="283.2" y="277.2" font-size="8.3" text-anchor="middle" font-weight="normal" font-style="normal" fill="#1a1a1a">2.515</text>
<text x="316.5" y="277.2" font-size="8.3" text-anchor="middle" font-weight="normal" font-style="normal" fill="#1a1a1a">1.833</text>
<text x="345.6" y="277.2" font-size="8.3" text-anchor="middle" font-weight="normal" font-style="normal" fill="#1a1a1a">1.985</text>
<text x="374.8" y="277.2" font-size="8.3" text-anchor="middle" font-weight="normal" font-style="normal" fill="#1a1a1a">2.672</text>
<text x="403.6" y="277.2" font-size="8.3" text-anchor="middle" font-weight="normal" font-style="normal" fill="#1a1a1a">0.959</text>
<text x="436.1" y="277.2" font-size="8.3" text-anchor="middle" font-weight="normal" font-style="normal" fill="#1a1a1a">0.852</text>
<text x="467.3" y="277.2" font-size="8.3" text-anchor="middle" font-weight="normal" font-style="normal" fill="#1a1a1a">0.550</text>
<text x="57.5" y="286.8" font-size="8.3" text-anchor="middle" font-weight="normal" font-style="normal" fill="#1a1a1a">3.43</text>
<text x="86.1" y="286.8" font-size="8.3" text-anchor="middle" font-weight="normal" font-style="normal" fill="#1a1a1a">3.57</text>
<text x="117.9" y="286.8" font-size="8.3" text-anchor="middle" font-weight="normal" font-style="normal" fill="#1a1a1a">1.88</text>
<text x="152.1" y="286.8" font-size="8.3" text-anchor="middle" font-weight="normal" font-style="normal" fill="#1a1a1a">2.16</text>
<text x="183.8" y="286.8" font-size="8.3" text-anchor="middle" font-weight="normal" font-style="normal" fill="#1a1a1a">1.58</text>
<text x="213.3" y="286.8" font-size="8.3" text-anchor="middle" font-weight="normal" font-style="normal" fill="#1a1a1a">1.72</text>
<text x="254.6" y="286.8" font-size="8.3" text-anchor="middle" font-weight="normal" font-style="normal" fill="#1a1a1a">1.72</text>
<text x="283.8" y="286.8" font-size="8.3" text-anchor="middle" font-weight="normal" font-style="normal" fill="#1a1a1a">0.90</text>
<text x="317" y="286.8" font-size="8.3" text-anchor="middle" font-weight="normal" font-style="normal" fill="#1a1a1a">0.53</text>
<text x="345.7" y="286.8" font-size="8.3" text-anchor="middle" font-weight="normal" font-style="normal" fill="#1a1a1a">1.18</text>
<text x="375" y="286.8" font-size="8.3" text-anchor="middle" font-weight="normal" font-style="normal" fill="#1a1a1a">0.92</text>
<text x="404" y="286.8" font-size="8.3" text-anchor="middle" font-weight="normal" font-style="normal" fill="#1a1a1a">0.72</text>
<text x="436.2" y="286.8" font-size="8.3" text-anchor="middle" font-weight="normal" font-style="normal" fill="#1a1a1a">0.78</text>
<text x="467.1" y="286.8" font-size="8.3" text-anchor="middle" font-weight="normal" font-style="normal" fill="#1a1a1a">0.28</text>
<text x="0.3" y="315.4" font-size="17.4" font-weight="bold" fill="#000" style="stroke-width:0.1px">B</text>
<text x="265" y="315.4" font-size="17.4" font-weight="bold" fill="#000" style="stroke-width:0.1px">C</text>
<text x="53.1" y="429.4" font-size="8.3" text-anchor="end" fill="#1a1a1a">0</text>
<text x="53.1" y="418.1" font-size="8.3" text-anchor="end" fill="#1a1a1a">1</text>
<text x="53.1" y="406.8" font-size="8.3" text-anchor="end" fill="#1a1a1a">2</text>
<text x="53.1" y="395.6" font-size="8.3" text-anchor="end" fill="#1a1a1a">3</text>
<text x="53.1" y="384.3" font-size="8.3" text-anchor="end" fill="#1a1a1a">4</text>
<text x="53.1" y="373.0" font-size="8.3" text-anchor="end" fill="#1a1a1a">5</text>
<text x="53.1" y="361.7" font-size="8.3" text-anchor="end" fill="#1a1a1a">6</text>
<text x="53.1" y="350.4" font-size="8.3" text-anchor="end" fill="#1a1a1a">7</text>
<text x="53.1" y="339.2" font-size="8.3" text-anchor="end" fill="#1a1a1a">8</text>
<text x="53.1" y="327.9" font-size="8.3" text-anchor="end" fill="#1a1a1a">9</text>
<text x="53.1" y="316.6" font-size="8.3" text-anchor="end" fill="#1a1a1a">10</text>
<text x="44" y="367" font-size="8.2" text-anchor="middle" fill="#1a1a1a" transform="rotate(-90 44 367)">XpYp telomere (kb)</text>
<text x="86.2" y="438.6" font-size="8.3" text-anchor="middle" fill="#1a1a1a">Stage A</text>
<text x="143.1" y="438.6" font-size="8.3" text-anchor="middle" fill="#1a1a1a">Stage B</text>
<text x="199.7" y="438.6" font-size="8.3" text-anchor="middle" fill="#1a1a1a">Stage C</text>
<text x="143.2" y="309.8" font-size="8.3" text-anchor="middle" fill="#1a1a1a"><tspan font-style="italic">P</tspan> &lt; .0001</text>
<text x="293.2" y="429.4" font-size="8.3" text-anchor="end" fill="#1a1a1a">0</text>
<text x="293.2" y="418.1" font-size="8.3" text-anchor="end" fill="#1a1a1a">1</text>
<text x="293.2" y="406.8" font-size="8.3" text-anchor="end" fill="#1a1a1a">2</text>
<text x="293.2" y="395.6" font-size="8.3" text-anchor="end" fill="#1a1a1a">3</text>
<text x="293.2" y="384.3" font-size="8.3" text-anchor="end" fill="#1a1a1a">4</text>
<text x="293.2" y="373.0" font-size="8.3" text-anchor="end" fill="#1a1a1a">5</text>
<text x="293.2" y="361.7" font-size="8.3" text-anchor="end" fill="#1a1a1a">6</text>
<text x="293.2" y="350.4" font-size="8.3" text-anchor="end" fill="#1a1a1a">7</text>
<text x="293.2" y="339.2" font-size="8.3" text-anchor="end" fill="#1a1a1a">8</text>
<text x="293.2" y="327.9" font-size="8.3" text-anchor="end" fill="#1a1a1a">9</text>
<text x="293.2" y="316.6" font-size="8.3" text-anchor="end" fill="#1a1a1a">10</text>
<text x="284" y="371" font-size="8.2" text-anchor="middle" fill="#1a1a1a" transform="rotate(-90 284 371)">17p telomere (kb)</text>
<text x="326.9" y="438.6" font-size="8.3" text-anchor="middle" fill="#1a1a1a">Stage A</text>
<text x="383.4" y="438.6" font-size="8.3" text-anchor="middle" fill="#1a1a1a">Stage B</text>
<text x="440" y="438.6" font-size="8.3" text-anchor="middle" fill="#1a1a1a">Stage C</text>
<text x="381.2" y="309.8" font-size="8.3" text-anchor="middle" fill="#1a1a1a"><tspan font-style="italic">P</tspan> = .0009</text>
</svg>
</body></html>
